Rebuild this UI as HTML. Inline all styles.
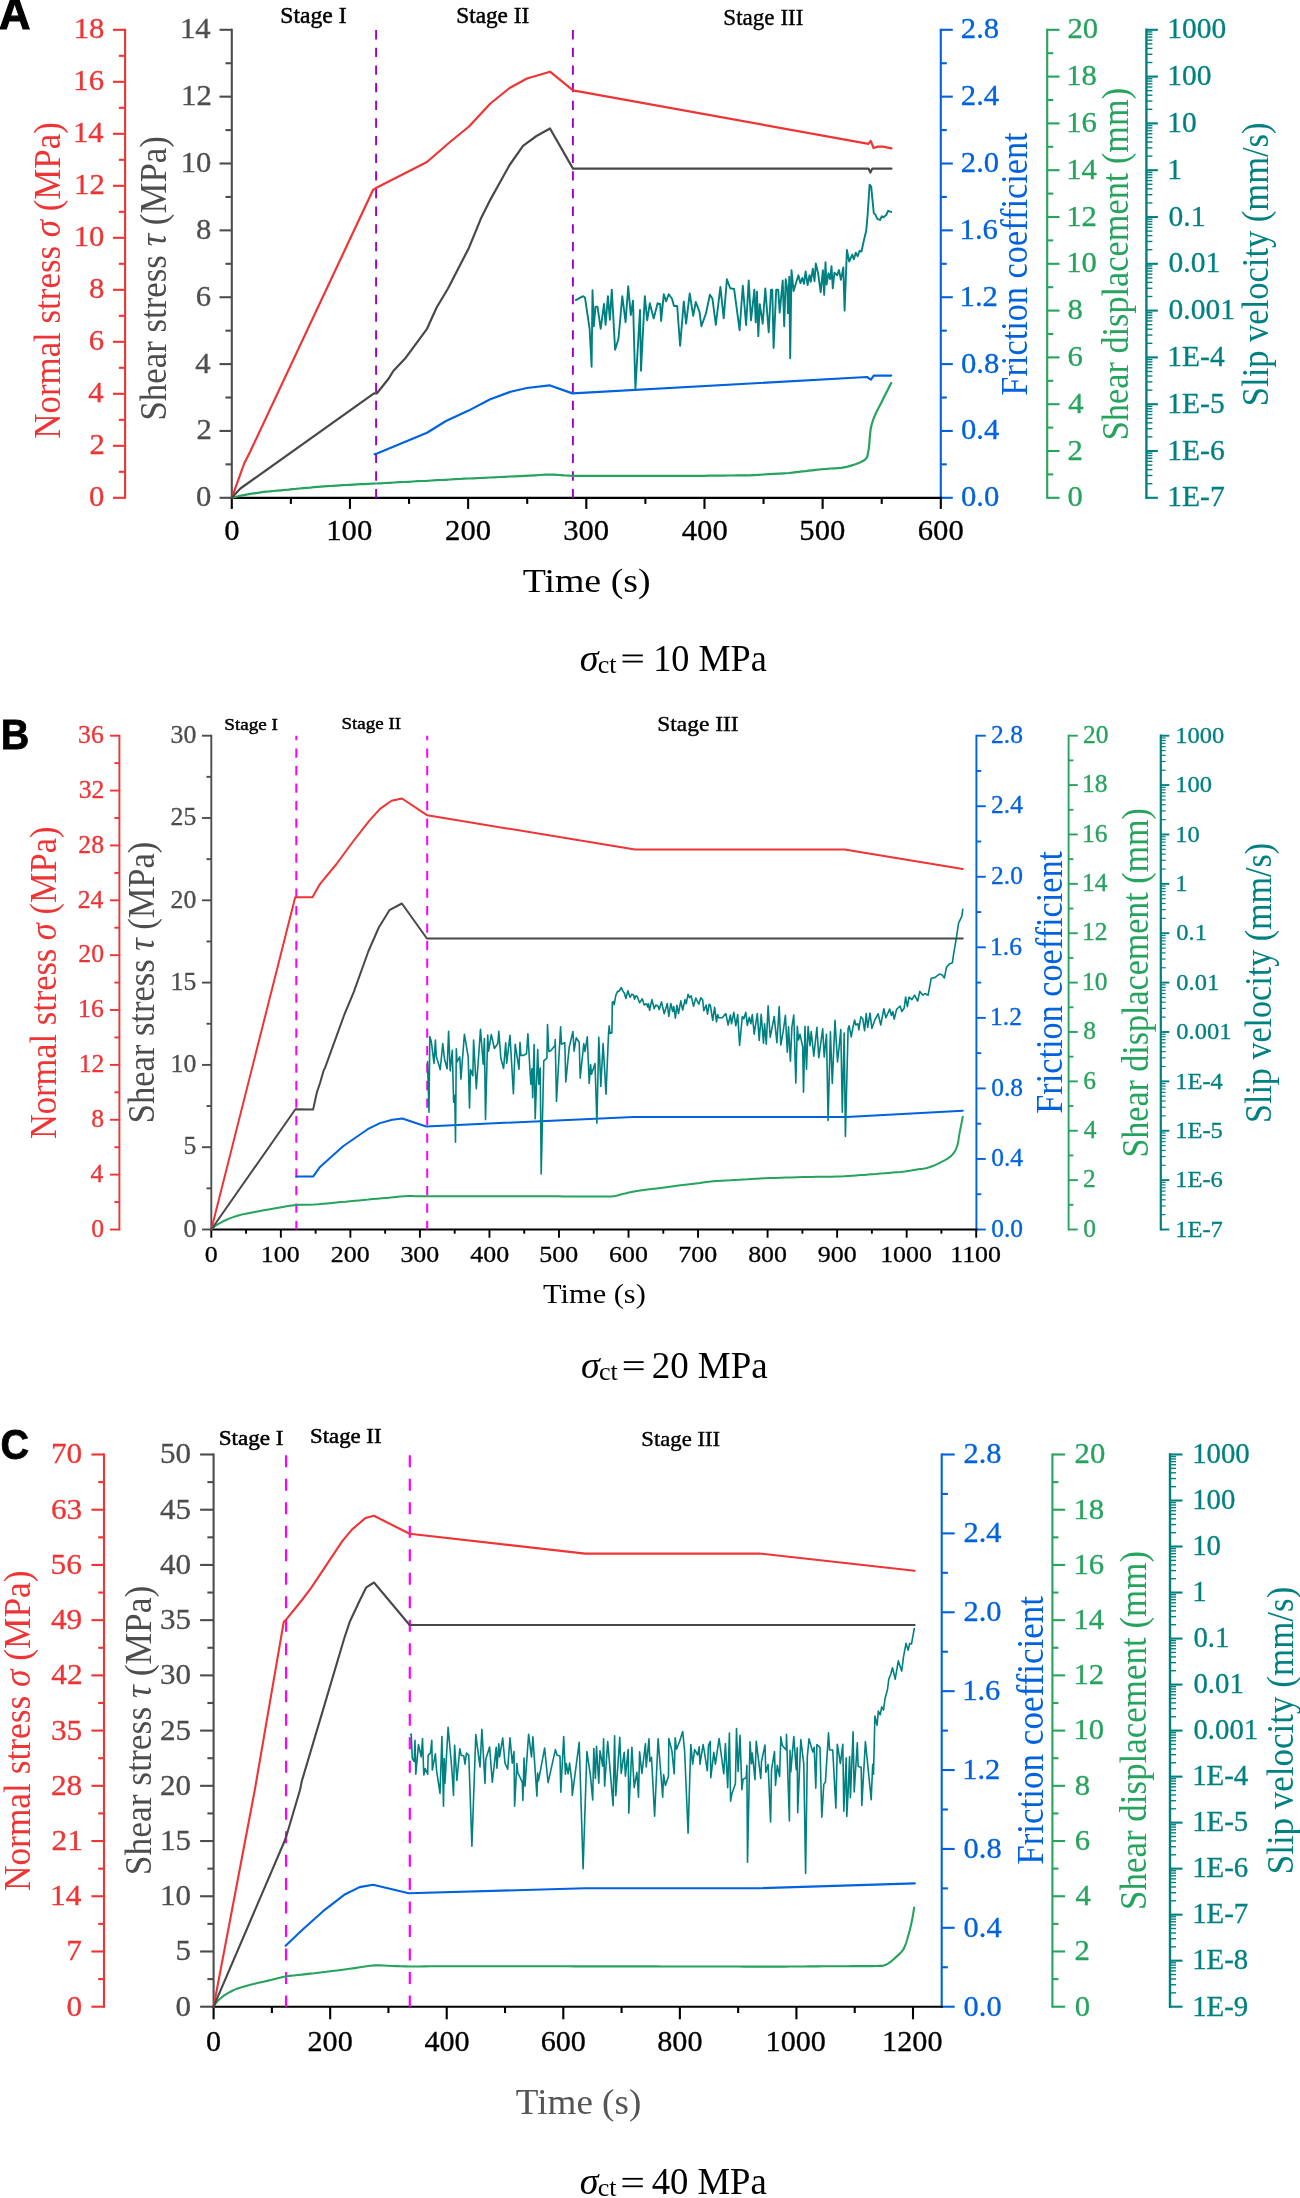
<!DOCTYPE html><html><head><meta charset="utf-8"><title>Figure</title><style>html,body{margin:0;padding:0;background:#fff;}svg{display:block;will-change:transform;}text{font-family:"Liberation Serif",serif;white-space:pre;}</style></head><body>
<svg width="1300" height="2198" viewBox="0 0 1300 2198">
<rect width="1300" height="2198" fill="#fff"/>
<g>
<text transform="translate(-0.89 29.00) scale(1.0000 1)" font-size="43.50" fill="#000" stroke="#000" stroke-width="1.10"><tspan font-weight="bold" font-family="Liberation Sans">A</tspan></text>
<line x1="125.10" y1="28.75" x2="125.10" y2="498.85" stroke="#ee3434" stroke-width="2.10"/>
<line x1="125.10" y1="497.80" x2="112.90" y2="497.80" stroke="#ee3434" stroke-width="2.10"/>
<text transform="translate(88.99 506.30) scale(1.0400 1)" font-size="29.50" fill="#ee3434" stroke="#ee3434" stroke-width="0.30"><tspan>0</tspan></text>
<line x1="125.10" y1="471.80" x2="118.80" y2="471.80" stroke="#ee3434" stroke-width="2.10"/>
<line x1="125.10" y1="445.80" x2="112.90" y2="445.80" stroke="#ee3434" stroke-width="2.10"/>
<text transform="translate(89.45 454.30) scale(1.0400 1)" font-size="29.50" fill="#ee3434" stroke="#ee3434" stroke-width="0.30"><tspan>2</tspan></text>
<line x1="125.10" y1="419.80" x2="118.80" y2="419.80" stroke="#ee3434" stroke-width="2.10"/>
<line x1="125.10" y1="393.80" x2="112.90" y2="393.80" stroke="#ee3434" stroke-width="2.10"/>
<text transform="translate(88.22 402.30) scale(1.0400 1)" font-size="29.50" fill="#ee3434" stroke="#ee3434" stroke-width="0.30"><tspan>4</tspan></text>
<line x1="125.10" y1="367.80" x2="118.80" y2="367.80" stroke="#ee3434" stroke-width="2.10"/>
<line x1="125.10" y1="341.80" x2="112.90" y2="341.80" stroke="#ee3434" stroke-width="2.10"/>
<text transform="translate(88.68 350.30) scale(1.0400 1)" font-size="29.50" fill="#ee3434" stroke="#ee3434" stroke-width="0.30"><tspan>6</tspan></text>
<line x1="125.10" y1="315.80" x2="118.80" y2="315.80" stroke="#ee3434" stroke-width="2.10"/>
<line x1="125.10" y1="289.80" x2="112.90" y2="289.80" stroke="#ee3434" stroke-width="2.10"/>
<text transform="translate(88.99 298.30) scale(1.0400 1)" font-size="29.50" fill="#ee3434" stroke="#ee3434" stroke-width="0.30"><tspan>8</tspan></text>
<line x1="125.10" y1="263.80" x2="118.80" y2="263.80" stroke="#ee3434" stroke-width="2.10"/>
<line x1="125.10" y1="237.80" x2="112.90" y2="237.80" stroke="#ee3434" stroke-width="2.10"/>
<text transform="translate(73.65 246.30) scale(1.0400 1)" font-size="29.50" fill="#ee3434" stroke="#ee3434" stroke-width="0.30"><tspan>10</tspan></text>
<line x1="125.10" y1="211.80" x2="118.80" y2="211.80" stroke="#ee3434" stroke-width="2.10"/>
<line x1="125.10" y1="185.80" x2="112.90" y2="185.80" stroke="#ee3434" stroke-width="2.10"/>
<text transform="translate(74.11 194.30) scale(1.0400 1)" font-size="29.50" fill="#ee3434" stroke="#ee3434" stroke-width="0.30"><tspan>12</tspan></text>
<line x1="125.10" y1="159.80" x2="118.80" y2="159.80" stroke="#ee3434" stroke-width="2.10"/>
<line x1="125.10" y1="133.80" x2="112.90" y2="133.80" stroke="#ee3434" stroke-width="2.10"/>
<text transform="translate(72.88 142.30) scale(1.0400 1)" font-size="29.50" fill="#ee3434" stroke="#ee3434" stroke-width="0.30"><tspan>14</tspan></text>
<line x1="125.10" y1="107.80" x2="118.80" y2="107.80" stroke="#ee3434" stroke-width="2.10"/>
<line x1="125.10" y1="81.80" x2="112.90" y2="81.80" stroke="#ee3434" stroke-width="2.10"/>
<text transform="translate(73.34 90.30) scale(1.0400 1)" font-size="29.50" fill="#ee3434" stroke="#ee3434" stroke-width="0.30"><tspan>16</tspan></text>
<line x1="125.10" y1="55.80" x2="118.80" y2="55.80" stroke="#ee3434" stroke-width="2.10"/>
<line x1="125.10" y1="29.80" x2="112.90" y2="29.80" stroke="#ee3434" stroke-width="2.10"/>
<text transform="translate(73.65 38.30) scale(1.0400 1)" font-size="29.50" fill="#ee3434" stroke="#ee3434" stroke-width="0.30"><tspan>18</tspan></text>
<line x1="231.80" y1="28.75" x2="231.80" y2="498.85" stroke="#4d4d4d" stroke-width="2.10"/>
<line x1="231.80" y1="497.80" x2="219.50" y2="497.80" stroke="#4d4d4d" stroke-width="2.10"/>
<text transform="translate(195.99 506.30) scale(1.0400 1)" font-size="29.50" fill="#4d4d4d" stroke="#4d4d4d" stroke-width="0.30"><tspan>0</tspan></text>
<line x1="231.80" y1="464.37" x2="225.50" y2="464.37" stroke="#4d4d4d" stroke-width="2.10"/>
<line x1="231.80" y1="430.94" x2="219.50" y2="430.94" stroke="#4d4d4d" stroke-width="2.10"/>
<text transform="translate(196.45 439.44) scale(1.0400 1)" font-size="29.50" fill="#4d4d4d" stroke="#4d4d4d" stroke-width="0.30"><tspan>2</tspan></text>
<line x1="231.80" y1="397.51" x2="225.50" y2="397.51" stroke="#4d4d4d" stroke-width="2.10"/>
<line x1="231.80" y1="364.09" x2="219.50" y2="364.09" stroke="#4d4d4d" stroke-width="2.10"/>
<text transform="translate(195.22 372.59) scale(1.0400 1)" font-size="29.50" fill="#4d4d4d" stroke="#4d4d4d" stroke-width="0.30"><tspan>4</tspan></text>
<line x1="231.80" y1="330.66" x2="225.50" y2="330.66" stroke="#4d4d4d" stroke-width="2.10"/>
<line x1="231.80" y1="297.23" x2="219.50" y2="297.23" stroke="#4d4d4d" stroke-width="2.10"/>
<text transform="translate(195.68 305.73) scale(1.0400 1)" font-size="29.50" fill="#4d4d4d" stroke="#4d4d4d" stroke-width="0.30"><tspan>6</tspan></text>
<line x1="231.80" y1="263.80" x2="225.50" y2="263.80" stroke="#4d4d4d" stroke-width="2.10"/>
<line x1="231.80" y1="230.37" x2="219.50" y2="230.37" stroke="#4d4d4d" stroke-width="2.10"/>
<text transform="translate(195.99 238.87) scale(1.0400 1)" font-size="29.50" fill="#4d4d4d" stroke="#4d4d4d" stroke-width="0.30"><tspan>8</tspan></text>
<line x1="231.80" y1="196.94" x2="225.50" y2="196.94" stroke="#4d4d4d" stroke-width="2.10"/>
<line x1="231.80" y1="163.51" x2="219.50" y2="163.51" stroke="#4d4d4d" stroke-width="2.10"/>
<text transform="translate(180.65 172.01) scale(1.0400 1)" font-size="29.50" fill="#4d4d4d" stroke="#4d4d4d" stroke-width="0.30"><tspan>10</tspan></text>
<line x1="231.80" y1="130.09" x2="225.50" y2="130.09" stroke="#4d4d4d" stroke-width="2.10"/>
<line x1="231.80" y1="96.66" x2="219.50" y2="96.66" stroke="#4d4d4d" stroke-width="2.10"/>
<text transform="translate(181.11 105.16) scale(1.0400 1)" font-size="29.50" fill="#4d4d4d" stroke="#4d4d4d" stroke-width="0.30"><tspan>12</tspan></text>
<line x1="231.80" y1="63.23" x2="225.50" y2="63.23" stroke="#4d4d4d" stroke-width="2.10"/>
<line x1="231.80" y1="29.80" x2="219.50" y2="29.80" stroke="#4d4d4d" stroke-width="2.10"/>
<text transform="translate(179.88 38.30) scale(1.0400 1)" font-size="29.50" fill="#4d4d4d" stroke="#4d4d4d" stroke-width="0.30"><tspan>14</tspan></text>
<line x1="940.80" y1="28.75" x2="940.80" y2="498.85" stroke="#0062dd" stroke-width="2.10"/>
<line x1="940.80" y1="497.80" x2="952.80" y2="497.80" stroke="#0062dd" stroke-width="2.10"/>
<text transform="translate(960.97 506.30) scale(1.0400 1)" font-size="29.50" fill="#0062dd" stroke="#0062dd" stroke-width="0.30"><tspan>0.0</tspan></text>
<line x1="940.80" y1="464.37" x2="946.80" y2="464.37" stroke="#0062dd" stroke-width="2.10"/>
<line x1="940.80" y1="430.94" x2="952.80" y2="430.94" stroke="#0062dd" stroke-width="2.10"/>
<text transform="translate(960.97 439.44) scale(1.0400 1)" font-size="29.50" fill="#0062dd" stroke="#0062dd" stroke-width="0.30"><tspan>0.4</tspan></text>
<line x1="940.80" y1="397.51" x2="946.80" y2="397.51" stroke="#0062dd" stroke-width="2.10"/>
<line x1="940.80" y1="364.09" x2="952.80" y2="364.09" stroke="#0062dd" stroke-width="2.10"/>
<text transform="translate(960.97 372.59) scale(1.0400 1)" font-size="29.50" fill="#0062dd" stroke="#0062dd" stroke-width="0.30"><tspan>0.8</tspan></text>
<line x1="940.80" y1="330.66" x2="946.80" y2="330.66" stroke="#0062dd" stroke-width="2.10"/>
<line x1="940.80" y1="297.23" x2="952.80" y2="297.23" stroke="#0062dd" stroke-width="2.10"/>
<text transform="translate(959.59 305.73) scale(1.0400 1)" font-size="29.50" fill="#0062dd" stroke="#0062dd" stroke-width="0.30"><tspan>1.2</tspan></text>
<line x1="940.80" y1="263.80" x2="946.80" y2="263.80" stroke="#0062dd" stroke-width="2.10"/>
<line x1="940.80" y1="230.37" x2="952.80" y2="230.37" stroke="#0062dd" stroke-width="2.10"/>
<text transform="translate(959.59 238.87) scale(1.0400 1)" font-size="29.50" fill="#0062dd" stroke="#0062dd" stroke-width="0.30"><tspan>1.6</tspan></text>
<line x1="940.80" y1="196.94" x2="946.80" y2="196.94" stroke="#0062dd" stroke-width="2.10"/>
<line x1="940.80" y1="163.51" x2="952.80" y2="163.51" stroke="#0062dd" stroke-width="2.10"/>
<text transform="translate(960.82 172.01) scale(1.0400 1)" font-size="29.50" fill="#0062dd" stroke="#0062dd" stroke-width="0.30"><tspan>2.0</tspan></text>
<line x1="940.80" y1="130.09" x2="946.80" y2="130.09" stroke="#0062dd" stroke-width="2.10"/>
<line x1="940.80" y1="96.66" x2="952.80" y2="96.66" stroke="#0062dd" stroke-width="2.10"/>
<text transform="translate(960.82 105.16) scale(1.0400 1)" font-size="29.50" fill="#0062dd" stroke="#0062dd" stroke-width="0.30"><tspan>2.4</tspan></text>
<line x1="940.80" y1="63.23" x2="946.80" y2="63.23" stroke="#0062dd" stroke-width="2.10"/>
<line x1="940.80" y1="29.80" x2="952.80" y2="29.80" stroke="#0062dd" stroke-width="2.10"/>
<text transform="translate(960.82 38.30) scale(1.0400 1)" font-size="29.50" fill="#0062dd" stroke="#0062dd" stroke-width="0.30"><tspan>2.8</tspan></text>
<line x1="1047.20" y1="28.75" x2="1047.20" y2="498.85" stroke="#26a35d" stroke-width="2.10"/>
<line x1="1047.20" y1="497.80" x2="1059.50" y2="497.80" stroke="#26a35d" stroke-width="2.10"/>
<text transform="translate(1067.57 506.30) scale(1.0400 1)" font-size="29.50" fill="#26a35d" stroke="#26a35d" stroke-width="0.30"><tspan>0</tspan></text>
<line x1="1047.20" y1="474.40" x2="1053.20" y2="474.40" stroke="#26a35d" stroke-width="2.10"/>
<line x1="1047.20" y1="451.00" x2="1059.50" y2="451.00" stroke="#26a35d" stroke-width="2.10"/>
<text transform="translate(1067.42 459.50) scale(1.0400 1)" font-size="29.50" fill="#26a35d" stroke="#26a35d" stroke-width="0.30"><tspan>2</tspan></text>
<line x1="1047.20" y1="427.60" x2="1053.20" y2="427.60" stroke="#26a35d" stroke-width="2.10"/>
<line x1="1047.20" y1="404.20" x2="1059.50" y2="404.20" stroke="#26a35d" stroke-width="2.10"/>
<text transform="translate(1068.19 412.70) scale(1.0400 1)" font-size="29.50" fill="#26a35d" stroke="#26a35d" stroke-width="0.30"><tspan>4</tspan></text>
<line x1="1047.20" y1="380.80" x2="1053.20" y2="380.80" stroke="#26a35d" stroke-width="2.10"/>
<line x1="1047.20" y1="357.40" x2="1059.50" y2="357.40" stroke="#26a35d" stroke-width="2.10"/>
<text transform="translate(1067.57 365.90) scale(1.0400 1)" font-size="29.50" fill="#26a35d" stroke="#26a35d" stroke-width="0.30"><tspan>6</tspan></text>
<line x1="1047.20" y1="334.00" x2="1053.20" y2="334.00" stroke="#26a35d" stroke-width="2.10"/>
<line x1="1047.20" y1="310.60" x2="1059.50" y2="310.60" stroke="#26a35d" stroke-width="2.10"/>
<text transform="translate(1067.57 319.10) scale(1.0400 1)" font-size="29.50" fill="#26a35d" stroke="#26a35d" stroke-width="0.30"><tspan>8</tspan></text>
<line x1="1047.20" y1="287.20" x2="1053.20" y2="287.20" stroke="#26a35d" stroke-width="2.10"/>
<line x1="1047.20" y1="263.80" x2="1059.50" y2="263.80" stroke="#26a35d" stroke-width="2.10"/>
<text transform="translate(1066.19 272.30) scale(1.0400 1)" font-size="29.50" fill="#26a35d" stroke="#26a35d" stroke-width="0.30"><tspan>10</tspan></text>
<line x1="1047.20" y1="240.40" x2="1053.20" y2="240.40" stroke="#26a35d" stroke-width="2.10"/>
<line x1="1047.20" y1="217.00" x2="1059.50" y2="217.00" stroke="#26a35d" stroke-width="2.10"/>
<text transform="translate(1066.19 225.50) scale(1.0400 1)" font-size="29.50" fill="#26a35d" stroke="#26a35d" stroke-width="0.30"><tspan>12</tspan></text>
<line x1="1047.20" y1="193.60" x2="1053.20" y2="193.60" stroke="#26a35d" stroke-width="2.10"/>
<line x1="1047.20" y1="170.20" x2="1059.50" y2="170.20" stroke="#26a35d" stroke-width="2.10"/>
<text transform="translate(1066.19 178.70) scale(1.0400 1)" font-size="29.50" fill="#26a35d" stroke="#26a35d" stroke-width="0.30"><tspan>14</tspan></text>
<line x1="1047.20" y1="146.80" x2="1053.20" y2="146.80" stroke="#26a35d" stroke-width="2.10"/>
<line x1="1047.20" y1="123.40" x2="1059.50" y2="123.40" stroke="#26a35d" stroke-width="2.10"/>
<text transform="translate(1066.19 131.90) scale(1.0400 1)" font-size="29.50" fill="#26a35d" stroke="#26a35d" stroke-width="0.30"><tspan>16</tspan></text>
<line x1="1047.20" y1="100.00" x2="1053.20" y2="100.00" stroke="#26a35d" stroke-width="2.10"/>
<line x1="1047.20" y1="76.60" x2="1059.50" y2="76.60" stroke="#26a35d" stroke-width="2.10"/>
<text transform="translate(1066.19 85.10) scale(1.0400 1)" font-size="29.50" fill="#26a35d" stroke="#26a35d" stroke-width="0.30"><tspan>18</tspan></text>
<line x1="1047.20" y1="53.20" x2="1053.20" y2="53.20" stroke="#26a35d" stroke-width="2.10"/>
<line x1="1047.20" y1="29.80" x2="1059.50" y2="29.80" stroke="#26a35d" stroke-width="2.10"/>
<text transform="translate(1067.42 38.30) scale(1.0400 1)" font-size="29.50" fill="#26a35d" stroke="#26a35d" stroke-width="0.30"><tspan>20</tspan></text>
<line x1="1146.40" y1="28.60" x2="1146.40" y2="499.00" stroke="#008080" stroke-width="2.40"/>
<line x1="1146.40" y1="497.80" x2="1157.90" y2="497.80" stroke="#008080" stroke-width="2.10"/>
<text transform="translate(1167.29 506.30) scale(1.0000 1)" font-size="29.50" fill="#008080" stroke="#008080" stroke-width="0.30"><tspan>1E-7</tspan></text>
<line x1="1146.40" y1="483.71" x2="1152.40" y2="483.71" stroke="#008080" stroke-width="1.40"/>
<line x1="1146.40" y1="475.47" x2="1152.40" y2="475.47" stroke="#008080" stroke-width="1.40"/>
<line x1="1146.40" y1="469.62" x2="1152.40" y2="469.62" stroke="#008080" stroke-width="1.40"/>
<line x1="1146.40" y1="465.09" x2="1152.40" y2="465.09" stroke="#008080" stroke-width="1.40"/>
<line x1="1146.40" y1="461.38" x2="1152.40" y2="461.38" stroke="#008080" stroke-width="1.40"/>
<line x1="1146.40" y1="458.25" x2="1152.40" y2="458.25" stroke="#008080" stroke-width="1.40"/>
<line x1="1146.40" y1="455.54" x2="1152.40" y2="455.54" stroke="#008080" stroke-width="1.40"/>
<line x1="1146.40" y1="453.14" x2="1152.40" y2="453.14" stroke="#008080" stroke-width="1.40"/>
<line x1="1146.40" y1="451.00" x2="1157.90" y2="451.00" stroke="#008080" stroke-width="2.10"/>
<text transform="translate(1167.29 459.50) scale(1.0000 1)" font-size="29.50" fill="#008080" stroke="#008080" stroke-width="0.30"><tspan>1E-6</tspan></text>
<line x1="1146.40" y1="436.91" x2="1152.40" y2="436.91" stroke="#008080" stroke-width="1.40"/>
<line x1="1146.40" y1="428.67" x2="1152.40" y2="428.67" stroke="#008080" stroke-width="1.40"/>
<line x1="1146.40" y1="422.82" x2="1152.40" y2="422.82" stroke="#008080" stroke-width="1.40"/>
<line x1="1146.40" y1="418.29" x2="1152.40" y2="418.29" stroke="#008080" stroke-width="1.40"/>
<line x1="1146.40" y1="414.58" x2="1152.40" y2="414.58" stroke="#008080" stroke-width="1.40"/>
<line x1="1146.40" y1="411.45" x2="1152.40" y2="411.45" stroke="#008080" stroke-width="1.40"/>
<line x1="1146.40" y1="408.74" x2="1152.40" y2="408.74" stroke="#008080" stroke-width="1.40"/>
<line x1="1146.40" y1="406.34" x2="1152.40" y2="406.34" stroke="#008080" stroke-width="1.40"/>
<line x1="1146.40" y1="404.20" x2="1157.90" y2="404.20" stroke="#008080" stroke-width="2.10"/>
<text transform="translate(1167.29 412.70) scale(1.0000 1)" font-size="29.50" fill="#008080" stroke="#008080" stroke-width="0.30"><tspan>1E-5</tspan></text>
<line x1="1146.40" y1="390.11" x2="1152.40" y2="390.11" stroke="#008080" stroke-width="1.40"/>
<line x1="1146.40" y1="381.87" x2="1152.40" y2="381.87" stroke="#008080" stroke-width="1.40"/>
<line x1="1146.40" y1="376.02" x2="1152.40" y2="376.02" stroke="#008080" stroke-width="1.40"/>
<line x1="1146.40" y1="371.49" x2="1152.40" y2="371.49" stroke="#008080" stroke-width="1.40"/>
<line x1="1146.40" y1="367.78" x2="1152.40" y2="367.78" stroke="#008080" stroke-width="1.40"/>
<line x1="1146.40" y1="364.65" x2="1152.40" y2="364.65" stroke="#008080" stroke-width="1.40"/>
<line x1="1146.40" y1="361.94" x2="1152.40" y2="361.94" stroke="#008080" stroke-width="1.40"/>
<line x1="1146.40" y1="359.54" x2="1152.40" y2="359.54" stroke="#008080" stroke-width="1.40"/>
<line x1="1146.40" y1="357.40" x2="1157.90" y2="357.40" stroke="#008080" stroke-width="2.10"/>
<text transform="translate(1167.29 365.90) scale(1.0000 1)" font-size="29.50" fill="#008080" stroke="#008080" stroke-width="0.30"><tspan>1E-4</tspan></text>
<line x1="1146.40" y1="343.31" x2="1152.40" y2="343.31" stroke="#008080" stroke-width="1.40"/>
<line x1="1146.40" y1="335.07" x2="1152.40" y2="335.07" stroke="#008080" stroke-width="1.40"/>
<line x1="1146.40" y1="329.22" x2="1152.40" y2="329.22" stroke="#008080" stroke-width="1.40"/>
<line x1="1146.40" y1="324.69" x2="1152.40" y2="324.69" stroke="#008080" stroke-width="1.40"/>
<line x1="1146.40" y1="320.98" x2="1152.40" y2="320.98" stroke="#008080" stroke-width="1.40"/>
<line x1="1146.40" y1="317.85" x2="1152.40" y2="317.85" stroke="#008080" stroke-width="1.40"/>
<line x1="1146.40" y1="315.14" x2="1152.40" y2="315.14" stroke="#008080" stroke-width="1.40"/>
<line x1="1146.40" y1="312.74" x2="1152.40" y2="312.74" stroke="#008080" stroke-width="1.40"/>
<line x1="1146.40" y1="310.60" x2="1157.90" y2="310.60" stroke="#008080" stroke-width="2.10"/>
<text transform="translate(1168.62 319.10) scale(1.0000 1)" font-size="29.50" fill="#008080" stroke="#008080" stroke-width="0.30"><tspan>0.001</tspan></text>
<line x1="1146.40" y1="296.51" x2="1152.40" y2="296.51" stroke="#008080" stroke-width="1.40"/>
<line x1="1146.40" y1="288.27" x2="1152.40" y2="288.27" stroke="#008080" stroke-width="1.40"/>
<line x1="1146.40" y1="282.42" x2="1152.40" y2="282.42" stroke="#008080" stroke-width="1.40"/>
<line x1="1146.40" y1="277.89" x2="1152.40" y2="277.89" stroke="#008080" stroke-width="1.40"/>
<line x1="1146.40" y1="274.18" x2="1152.40" y2="274.18" stroke="#008080" stroke-width="1.40"/>
<line x1="1146.40" y1="271.05" x2="1152.40" y2="271.05" stroke="#008080" stroke-width="1.40"/>
<line x1="1146.40" y1="268.34" x2="1152.40" y2="268.34" stroke="#008080" stroke-width="1.40"/>
<line x1="1146.40" y1="265.94" x2="1152.40" y2="265.94" stroke="#008080" stroke-width="1.40"/>
<line x1="1146.40" y1="263.80" x2="1157.90" y2="263.80" stroke="#008080" stroke-width="2.10"/>
<text transform="translate(1168.62 272.30) scale(1.0000 1)" font-size="29.50" fill="#008080" stroke="#008080" stroke-width="0.30"><tspan>0.01</tspan></text>
<line x1="1146.40" y1="249.71" x2="1152.40" y2="249.71" stroke="#008080" stroke-width="1.40"/>
<line x1="1146.40" y1="241.47" x2="1152.40" y2="241.47" stroke="#008080" stroke-width="1.40"/>
<line x1="1146.40" y1="235.62" x2="1152.40" y2="235.62" stroke="#008080" stroke-width="1.40"/>
<line x1="1146.40" y1="231.09" x2="1152.40" y2="231.09" stroke="#008080" stroke-width="1.40"/>
<line x1="1146.40" y1="227.38" x2="1152.40" y2="227.38" stroke="#008080" stroke-width="1.40"/>
<line x1="1146.40" y1="224.25" x2="1152.40" y2="224.25" stroke="#008080" stroke-width="1.40"/>
<line x1="1146.40" y1="221.54" x2="1152.40" y2="221.54" stroke="#008080" stroke-width="1.40"/>
<line x1="1146.40" y1="219.14" x2="1152.40" y2="219.14" stroke="#008080" stroke-width="1.40"/>
<line x1="1146.40" y1="217.00" x2="1157.90" y2="217.00" stroke="#008080" stroke-width="2.10"/>
<text transform="translate(1168.62 225.50) scale(1.0000 1)" font-size="29.50" fill="#008080" stroke="#008080" stroke-width="0.30"><tspan>0.1</tspan></text>
<line x1="1146.40" y1="202.91" x2="1152.40" y2="202.91" stroke="#008080" stroke-width="1.40"/>
<line x1="1146.40" y1="194.67" x2="1152.40" y2="194.67" stroke="#008080" stroke-width="1.40"/>
<line x1="1146.40" y1="188.82" x2="1152.40" y2="188.82" stroke="#008080" stroke-width="1.40"/>
<line x1="1146.40" y1="184.29" x2="1152.40" y2="184.29" stroke="#008080" stroke-width="1.40"/>
<line x1="1146.40" y1="180.58" x2="1152.40" y2="180.58" stroke="#008080" stroke-width="1.40"/>
<line x1="1146.40" y1="177.45" x2="1152.40" y2="177.45" stroke="#008080" stroke-width="1.40"/>
<line x1="1146.40" y1="174.74" x2="1152.40" y2="174.74" stroke="#008080" stroke-width="1.40"/>
<line x1="1146.40" y1="172.34" x2="1152.40" y2="172.34" stroke="#008080" stroke-width="1.40"/>
<line x1="1146.40" y1="170.20" x2="1157.90" y2="170.20" stroke="#008080" stroke-width="2.10"/>
<text transform="translate(1167.29 178.70) scale(1.0000 1)" font-size="29.50" fill="#008080" stroke="#008080" stroke-width="0.30"><tspan>1</tspan></text>
<line x1="1146.40" y1="156.11" x2="1152.40" y2="156.11" stroke="#008080" stroke-width="1.40"/>
<line x1="1146.40" y1="147.87" x2="1152.40" y2="147.87" stroke="#008080" stroke-width="1.40"/>
<line x1="1146.40" y1="142.02" x2="1152.40" y2="142.02" stroke="#008080" stroke-width="1.40"/>
<line x1="1146.40" y1="137.49" x2="1152.40" y2="137.49" stroke="#008080" stroke-width="1.40"/>
<line x1="1146.40" y1="133.78" x2="1152.40" y2="133.78" stroke="#008080" stroke-width="1.40"/>
<line x1="1146.40" y1="130.65" x2="1152.40" y2="130.65" stroke="#008080" stroke-width="1.40"/>
<line x1="1146.40" y1="127.94" x2="1152.40" y2="127.94" stroke="#008080" stroke-width="1.40"/>
<line x1="1146.40" y1="125.54" x2="1152.40" y2="125.54" stroke="#008080" stroke-width="1.40"/>
<line x1="1146.40" y1="123.40" x2="1157.90" y2="123.40" stroke="#008080" stroke-width="2.10"/>
<text transform="translate(1167.29 131.90) scale(1.0000 1)" font-size="29.50" fill="#008080" stroke="#008080" stroke-width="0.30"><tspan>10</tspan></text>
<line x1="1146.40" y1="109.31" x2="1152.40" y2="109.31" stroke="#008080" stroke-width="1.40"/>
<line x1="1146.40" y1="101.07" x2="1152.40" y2="101.07" stroke="#008080" stroke-width="1.40"/>
<line x1="1146.40" y1="95.22" x2="1152.40" y2="95.22" stroke="#008080" stroke-width="1.40"/>
<line x1="1146.40" y1="90.69" x2="1152.40" y2="90.69" stroke="#008080" stroke-width="1.40"/>
<line x1="1146.40" y1="86.98" x2="1152.40" y2="86.98" stroke="#008080" stroke-width="1.40"/>
<line x1="1146.40" y1="83.85" x2="1152.40" y2="83.85" stroke="#008080" stroke-width="1.40"/>
<line x1="1146.40" y1="81.14" x2="1152.40" y2="81.14" stroke="#008080" stroke-width="1.40"/>
<line x1="1146.40" y1="78.74" x2="1152.40" y2="78.74" stroke="#008080" stroke-width="1.40"/>
<line x1="1146.40" y1="76.60" x2="1157.90" y2="76.60" stroke="#008080" stroke-width="2.10"/>
<text transform="translate(1167.29 85.10) scale(1.0000 1)" font-size="29.50" fill="#008080" stroke="#008080" stroke-width="0.30"><tspan>100</tspan></text>
<line x1="1146.40" y1="62.51" x2="1152.40" y2="62.51" stroke="#008080" stroke-width="1.40"/>
<line x1="1146.40" y1="54.27" x2="1152.40" y2="54.27" stroke="#008080" stroke-width="1.40"/>
<line x1="1146.40" y1="48.42" x2="1152.40" y2="48.42" stroke="#008080" stroke-width="1.40"/>
<line x1="1146.40" y1="43.89" x2="1152.40" y2="43.89" stroke="#008080" stroke-width="1.40"/>
<line x1="1146.40" y1="40.18" x2="1152.40" y2="40.18" stroke="#008080" stroke-width="1.40"/>
<line x1="1146.40" y1="37.05" x2="1152.40" y2="37.05" stroke="#008080" stroke-width="1.40"/>
<line x1="1146.40" y1="34.34" x2="1152.40" y2="34.34" stroke="#008080" stroke-width="1.40"/>
<line x1="1146.40" y1="31.94" x2="1152.40" y2="31.94" stroke="#008080" stroke-width="1.40"/>
<line x1="1146.40" y1="29.80" x2="1157.90" y2="29.80" stroke="#008080" stroke-width="2.10"/>
<text transform="translate(1167.29 38.30) scale(1.0000 1)" font-size="29.50" fill="#008080" stroke="#008080" stroke-width="0.30"><tspan>1000</tspan></text>
<line x1="230.75" y1="497.90" x2="941.85" y2="497.90" stroke="#000000" stroke-width="2.10"/>
<line x1="231.80" y1="497.90" x2="231.80" y2="508.90" stroke="#000000" stroke-width="2.10"/>
<text transform="translate(224.13 539.70) scale(1.0400 1)" font-size="29.50" fill="#000000" stroke="#000000" stroke-width="0.30"><tspan>0</tspan></text>
<line x1="290.88" y1="497.90" x2="290.88" y2="503.90" stroke="#000000" stroke-width="2.10"/>
<line x1="349.97" y1="497.90" x2="349.97" y2="508.90" stroke="#000000" stroke-width="2.10"/>
<text transform="translate(326.27 539.70) scale(1.0400 1)" font-size="29.50" fill="#000000" stroke="#000000" stroke-width="0.30"><tspan>100</tspan></text>
<line x1="409.05" y1="497.90" x2="409.05" y2="503.90" stroke="#000000" stroke-width="2.10"/>
<line x1="468.13" y1="497.90" x2="468.13" y2="508.90" stroke="#000000" stroke-width="2.10"/>
<text transform="translate(445.05 539.70) scale(1.0400 1)" font-size="29.50" fill="#000000" stroke="#000000" stroke-width="0.30"><tspan>200</tspan></text>
<line x1="527.22" y1="497.90" x2="527.22" y2="503.90" stroke="#000000" stroke-width="2.10"/>
<line x1="586.30" y1="497.90" x2="586.30" y2="508.90" stroke="#000000" stroke-width="2.10"/>
<text transform="translate(563.21 539.70) scale(1.0400 1)" font-size="29.50" fill="#000000" stroke="#000000" stroke-width="0.30"><tspan>300</tspan></text>
<line x1="645.38" y1="497.90" x2="645.38" y2="503.90" stroke="#000000" stroke-width="2.10"/>
<line x1="704.47" y1="497.90" x2="704.47" y2="508.90" stroke="#000000" stroke-width="2.10"/>
<text transform="translate(681.76 539.70) scale(1.0400 1)" font-size="29.50" fill="#000000" stroke="#000000" stroke-width="0.30"><tspan>400</tspan></text>
<line x1="763.55" y1="497.90" x2="763.55" y2="503.90" stroke="#000000" stroke-width="2.10"/>
<line x1="822.63" y1="497.90" x2="822.63" y2="508.90" stroke="#000000" stroke-width="2.10"/>
<text transform="translate(799.32 539.70) scale(1.0400 1)" font-size="29.50" fill="#000000" stroke="#000000" stroke-width="0.30"><tspan>500</tspan></text>
<line x1="881.72" y1="497.90" x2="881.72" y2="503.90" stroke="#000000" stroke-width="2.10"/>
<line x1="940.80" y1="497.90" x2="940.80" y2="508.90" stroke="#000000" stroke-width="2.10"/>
<text transform="translate(917.79 539.70) scale(1.0400 1)" font-size="29.50" fill="#000000" stroke="#000000" stroke-width="0.30"><tspan>600</tspan></text>
<text transform="translate(59.70 438.75) scale(1.0700 1) rotate(-90)" font-size="34.90" fill="#ee3434"><tspan>Normal&#160;stress&#160;</tspan><tspan font-style="italic">σ</tspan><tspan>&#160;(MPa)</tspan></text>
<text transform="translate(166.00 420.57) scale(1.0800 1) rotate(-90)" font-size="34.86" fill="#4d4d4d"><tspan>Shear&#160;stress&#160;</tspan><tspan font-style="italic">τ</tspan><tspan>&#160;(MPa)</tspan></text>
<text transform="translate(1027.30 395.63) scale(1.0800 1) rotate(-90)" font-size="34.32" fill="#0062dd"><tspan>Friction&#160;coefficient</tspan></text>
<text transform="translate(1128.30 440.23) scale(1.0800 1) rotate(-90)" font-size="34.31" fill="#26a35d"><tspan>Shear&#160;displacement&#160;(mm)</tspan></text>
<text transform="translate(1267.70 406.14) scale(1.0800 1) rotate(-90)" font-size="34.52" fill="#008080"><tspan>Slip&#160;velocity&#160;(mm/s)</tspan></text>
<text transform="translate(522.64 591.80) scale(1.0942 1)" font-size="34.60" fill="#000000"><tspan>Time&#160;(s)</tspan></text>
<text transform="translate(280.26 22.60) scale(1.0287 1)" font-size="23.00" fill="#000000" stroke="#000000" stroke-width="0.50"><tspan>Stage&#160;I</tspan></text>
<text transform="translate(456.29 22.60) scale(1.0112 1)" font-size="23.00" fill="#000000" stroke="#000000" stroke-width="0.50"><tspan>Stage&#160;II</tspan></text>
<text transform="translate(723.30 25.00) scale(1.0048 1)" font-size="23.00" fill="#000000" stroke="#000000" stroke-width="0.40"><tspan>Stage&#160;III</tspan></text>
<line x1="376.10" y1="30.10" x2="376.10" y2="497.90" stroke="#9c00cc" stroke-width="1.90" stroke-dasharray="9.30 8.35" stroke-dashoffset="0.00"/>
<line x1="572.90" y1="30.10" x2="572.90" y2="497.90" stroke="#9c00cc" stroke-width="1.90" stroke-dasharray="9.30 8.35" stroke-dashoffset="0.00"/>
<polyline points="231.8,497.8 234.1,497.3 237.3,496.5 241.1,495.6 245.0,494.8 249.0,494.1 253.4,493.4 257.8,492.8 262.0,492.2 265.9,491.7 269.7,491.4 273.4,491.0 277.1,490.7 281.0,490.3 284.8,489.9 288.6,489.6 292.3,489.2 295.9,488.9 299.5,488.5 303.1,488.2 306.7,487.9 310.3,487.6 313.9,487.2 317.5,486.9 321.0,486.6 324.3,486.4 327.4,486.2 330.4,486.0 333.5,485.8 336.6,485.6 339.6,485.4 342.7,485.2 346.0,485.0 349.6,484.8 353.3,484.6 357.1,484.4 360.9,484.2 364.5,484.1 368.1,483.9 371.8,483.7 375.8,483.5 380.2,483.3 384.9,483.0 389.7,482.8 394.4,482.5 399.1,482.2 403.8,482.0 408.4,481.8 413.1,481.5 417.7,481.2 422.4,481.0 427.1,480.8 431.7,480.5 436.4,480.2 441.0,480.0 445.7,479.8 450.4,479.5 455.0,479.2 459.6,479.0 464.2,478.7 469.0,478.5 473.9,478.3 479.0,478.0 484.1,477.8 489.2,477.5 494.3,477.3 499.4,477.0 504.4,476.8 509.5,476.5 514.6,476.3 519.6,476.1 524.7,475.8 529.8,475.6 535.0,475.3 540.4,475.0 545.6,474.7 550.0,474.6 553.5,474.6 556.3,474.8 558.8,475.0 561.5,475.2 564.1,475.4 566.6,475.5 569.4,475.7 573.0,475.8 577.6,475.8 583.0,475.8 588.6,475.8 594.2,475.8 599.5,475.8 604.8,475.8 610.0,475.8 615.3,475.8 620.6,475.8 625.9,475.8 631.2,475.8 636.5,475.8 641.8,475.8 647.1,475.8 652.4,475.8 657.7,475.8 663.0,475.8 668.2,475.8 673.5,475.8 678.8,475.8 684.2,475.8 689.7,475.8 695.1,475.8 700.0,475.8 704.4,475.8 708.4,475.7 712.2,475.7 716.2,475.6 720.2,475.6 724.2,475.6 728.3,475.5 732.3,475.5 736.3,475.4 740.2,475.4 744.2,475.4 748.5,475.3 753.3,475.1 758.3,474.8 763.6,474.5 768.7,474.2 773.9,473.9 779.2,473.6 784.3,473.3 788.9,473.0 792.7,472.6 796.0,472.2 799.1,471.8 802.3,471.4 805.7,471.1 809.0,470.7 812.3,470.3 815.8,469.9 819.4,469.5 823.1,469.2 826.9,468.9 830.6,468.5 834.2,468.3 837.7,468.2 841.4,467.9 845.4,467.2 850.2,465.9 855.5,464.2 860.5,462.2 864.3,460.2 866.4,458.2 867.4,456.2 867.8,454.0 868.3,451.5 868.8,448.7 869.1,445.7 869.4,442.5 869.6,439.4 869.9,436.4 870.2,433.3 870.5,430.3 871.0,427.3 871.7,424.4 872.6,421.5 873.6,418.5 875.0,415.2 876.7,411.4 878.8,407.4 881.0,403.2 883.1,399.0 885.3,394.6 887.7,390.0 889.7,385.8 891.2,382.9" fill="none" stroke="#26a35d" stroke-width="2.20" stroke-linejoin="round" stroke-linecap="round"/>
<polyline points="374.6,454.2 377.0,453.5 427.0,432.7 446.0,421.0 468.6,410.6 490.2,399.3 510.6,391.8 526.8,388.0 549.4,385.3 572.5,393.4 867.0,377.0 871.0,379.7 873.7,375.6 891.2,375.6" fill="none" stroke="#0062dd" stroke-width="2.20" stroke-linejoin="round" stroke-linecap="round"/>
<polyline points="575.9,300.1 583.1,296.2 585.0,297.5 589.6,328.8 591.6,366.8 592.5,290.3 593.8,326.2 595.5,306.6 597.5,306.6 600.7,328.8 604.0,304.0 605.6,324.9 607.9,296.2 609.9,319.7 611.8,289.6 615.1,349.8 618.4,339.3 622.3,296.2 625.6,322.3 628.2,286.3 630.8,315.1 633.0,300.7 635.4,389.0 640.0,309.9 641.0,370.7 644.8,296.2 647.2,320.3 649.8,303.3 653.7,318.4 657.6,303.3 660.2,304.0 661.1,321.0 663.8,294.2 666.1,301.4 668.7,294.2 672.0,298.8 674.0,306.0 677.2,306.0 680.1,345.8 683.8,301.4 686.1,323.6 689.7,293.5 693.2,315.8 695.8,302.0 699.5,311.8 701.4,326.2 706.0,313.2 709.9,294.8 712.5,298.8 715.8,324.9 720.4,286.9 723.7,318.4 726.9,279.2 730.2,288.3 734.1,289.0 739.6,330.2 742.8,285.8 746.1,325.0 748.7,280.5 751.0,320.4 754.4,289.7 755.7,322.4 757.0,291.7 758.3,336.1 759.8,304.1 762.7,323.7 765.3,288.4 768.7,332.2 771.0,289.7 772.3,289.7 773.6,347.9 776.2,289.7 778.2,289.7 779.7,312.6 782.7,280.5 784.2,326.3 785.7,279.2 787.3,289.7 788.0,313.2 789.3,276.6 790.2,358.3 791.5,270.1 793.6,291.0 798.4,275.3 800.4,283.2 802.3,277.9 804.0,283.8 805.6,271.4 807.6,285.1 809.5,275.3 810.8,281.8 812.8,268.8 814.5,281.2 815.8,263.5 818.0,272.7 820.7,292.3 822.9,270.1 824.2,294.9 825.5,262.2 826.5,284.5 828.5,273.3 830.2,279.2 831.5,266.2 832.8,288.4 834.4,272.7 837.0,275.3 839.0,270.1 840.9,279.9 843.3,267.5 844.6,310.6 846.9,250.0 849.2,261.5 852.3,254.6 853.8,259.2 855.8,252.7 857.7,256.2 859.6,250.8 861.5,251.5 863.8,240.8 866.2,230.8 867.7,213.8 869.6,184.6 871.2,186.9 873.8,213.1 875.4,214.6 877.3,218.8 880.0,220.0 881.9,216.2 883.5,217.3 886.2,215.0 888.1,210.8 891.2,211.9" fill="none" stroke="#008080" stroke-width="1.90" stroke-linejoin="round" stroke-linecap="round"/>
<polyline points="231.8,497.8 244.2,463.5 250.0,452.0 373.0,190.0 376.0,188.0 427.0,162.0 450.0,142.0 469.0,126.5 490.4,103.5 509.6,88.0 527.0,78.5 550.0,71.7 573.0,90.4 868.5,143.8 870.7,140.9 873.6,148.0 877.8,146.6 883.0,146.6 891.4,148.3" fill="none" stroke="#ee3434" stroke-width="2.20" stroke-linejoin="round" stroke-linecap="round"/>
<polyline points="231.8,497.8 240.4,488.5 374.0,393.3 377.0,393.3 388.5,378.8 393.3,371.0 405.8,357.7 427.0,328.8 436.5,307.7 448.0,288.5 469.0,247.7 480.8,218.8 490.4,199.6 500.0,182.3 509.6,165.0 523.0,145.8 536.5,136.0 550.0,128.5 573.0,168.6 868.5,168.6 870.4,172.5 872.3,168.6 891.5,168.6" fill="none" stroke="#484848" stroke-width="2.20" stroke-linejoin="round" stroke-linecap="round"/>
<text transform="translate(579.86 670.60) scale(1.0000 1)" font-size="38.00" fill="#000"><tspan font-style="italic">σ</tspan></text>
<text transform="translate(597.76 673.20) scale(1.0000 1)" font-size="26.00" fill="#000"><tspan>ct</tspan></text>
<rect x="622.50" y="654.50" width="20.30" height="1.80" fill="#000"/>
<rect x="622.50" y="660.70" width="20.30" height="1.80" fill="#000"/>
<text transform="translate(653.22 670.60) scale(0.9522 1)" font-size="38.00" fill="#000"><tspan>10&#160;MPa</tspan></text>
</g>
<g>
<text transform="translate(0.73 748.60) scale(0.9400 1)" font-size="42.00" fill="#000" stroke="#000" stroke-width="0.80"><tspan font-weight="bold" font-family="Liberation Sans">B</tspan></text>
<line x1="119.40" y1="734.75" x2="119.40" y2="1230.45" stroke="#ee3434" stroke-width="1.90"/>
<line x1="119.40" y1="1229.50" x2="109.90" y2="1229.50" stroke="#ee3434" stroke-width="1.90"/>
<text transform="translate(91.15 1236.70) scale(1.0600 1)" font-size="24.30" fill="#ee3434" stroke="#ee3434" stroke-width="0.30"><tspan>0</tspan></text>
<line x1="119.40" y1="1202.07" x2="114.40" y2="1202.07" stroke="#ee3434" stroke-width="1.90"/>
<line x1="119.40" y1="1174.63" x2="109.90" y2="1174.63" stroke="#ee3434" stroke-width="1.90"/>
<text transform="translate(90.51 1181.83) scale(1.0600 1)" font-size="24.30" fill="#ee3434" stroke="#ee3434" stroke-width="0.30"><tspan>4</tspan></text>
<line x1="119.40" y1="1147.20" x2="114.40" y2="1147.20" stroke="#ee3434" stroke-width="1.90"/>
<line x1="119.40" y1="1119.77" x2="109.90" y2="1119.77" stroke="#ee3434" stroke-width="1.90"/>
<text transform="translate(91.15 1126.97) scale(1.0600 1)" font-size="24.30" fill="#ee3434" stroke="#ee3434" stroke-width="0.30"><tspan>8</tspan></text>
<line x1="119.40" y1="1092.33" x2="114.40" y2="1092.33" stroke="#ee3434" stroke-width="1.90"/>
<line x1="119.40" y1="1064.90" x2="109.90" y2="1064.90" stroke="#ee3434" stroke-width="1.90"/>
<text transform="translate(78.66 1072.10) scale(1.0600 1)" font-size="24.30" fill="#ee3434" stroke="#ee3434" stroke-width="0.30"><tspan>12</tspan></text>
<line x1="119.40" y1="1037.47" x2="114.40" y2="1037.47" stroke="#ee3434" stroke-width="1.90"/>
<line x1="119.40" y1="1010.03" x2="109.90" y2="1010.03" stroke="#ee3434" stroke-width="1.90"/>
<text transform="translate(78.01 1017.23) scale(1.0600 1)" font-size="24.30" fill="#ee3434" stroke="#ee3434" stroke-width="0.30"><tspan>16</tspan></text>
<line x1="119.40" y1="982.60" x2="114.40" y2="982.60" stroke="#ee3434" stroke-width="1.90"/>
<line x1="119.40" y1="955.17" x2="109.90" y2="955.17" stroke="#ee3434" stroke-width="1.90"/>
<text transform="translate(78.27 962.37) scale(1.0600 1)" font-size="24.30" fill="#ee3434" stroke="#ee3434" stroke-width="0.30"><tspan>20</tspan></text>
<line x1="119.40" y1="927.73" x2="114.40" y2="927.73" stroke="#ee3434" stroke-width="1.90"/>
<line x1="119.40" y1="900.30" x2="109.90" y2="900.30" stroke="#ee3434" stroke-width="1.90"/>
<text transform="translate(77.63 907.50) scale(1.0600 1)" font-size="24.30" fill="#ee3434" stroke="#ee3434" stroke-width="0.30"><tspan>24</tspan></text>
<line x1="119.40" y1="872.87" x2="114.40" y2="872.87" stroke="#ee3434" stroke-width="1.90"/>
<line x1="119.40" y1="845.43" x2="109.90" y2="845.43" stroke="#ee3434" stroke-width="1.90"/>
<text transform="translate(78.27 852.63) scale(1.0600 1)" font-size="24.30" fill="#ee3434" stroke="#ee3434" stroke-width="0.30"><tspan>28</tspan></text>
<line x1="119.40" y1="818.00" x2="114.40" y2="818.00" stroke="#ee3434" stroke-width="1.90"/>
<line x1="119.40" y1="790.57" x2="109.90" y2="790.57" stroke="#ee3434" stroke-width="1.90"/>
<text transform="translate(78.66 797.77) scale(1.0600 1)" font-size="24.30" fill="#ee3434" stroke="#ee3434" stroke-width="0.30"><tspan>32</tspan></text>
<line x1="119.40" y1="763.13" x2="114.40" y2="763.13" stroke="#ee3434" stroke-width="1.90"/>
<line x1="119.40" y1="735.70" x2="109.90" y2="735.70" stroke="#ee3434" stroke-width="1.90"/>
<text transform="translate(78.01 742.90) scale(1.0600 1)" font-size="24.30" fill="#ee3434" stroke="#ee3434" stroke-width="0.30"><tspan>36</tspan></text>
<line x1="211.30" y1="734.75" x2="211.30" y2="1230.45" stroke="#4d4d4d" stroke-width="1.90"/>
<line x1="211.30" y1="1229.50" x2="202.00" y2="1229.50" stroke="#4d4d4d" stroke-width="1.90"/>
<text transform="translate(183.45 1236.70) scale(1.0600 1)" font-size="24.30" fill="#4d4d4d" stroke="#4d4d4d" stroke-width="0.30"><tspan>0</tspan></text>
<line x1="211.30" y1="1188.35" x2="206.50" y2="1188.35" stroke="#4d4d4d" stroke-width="1.90"/>
<line x1="211.30" y1="1147.20" x2="202.00" y2="1147.20" stroke="#4d4d4d" stroke-width="1.90"/>
<text transform="translate(183.45 1154.40) scale(1.0600 1)" font-size="24.30" fill="#4d4d4d" stroke="#4d4d4d" stroke-width="0.30"><tspan>5</tspan></text>
<line x1="211.30" y1="1106.05" x2="206.50" y2="1106.05" stroke="#4d4d4d" stroke-width="1.90"/>
<line x1="211.30" y1="1064.90" x2="202.00" y2="1064.90" stroke="#4d4d4d" stroke-width="1.90"/>
<text transform="translate(170.57 1072.10) scale(1.0600 1)" font-size="24.30" fill="#4d4d4d" stroke="#4d4d4d" stroke-width="0.30"><tspan>10</tspan></text>
<line x1="211.30" y1="1023.75" x2="206.50" y2="1023.75" stroke="#4d4d4d" stroke-width="1.90"/>
<line x1="211.30" y1="982.60" x2="202.00" y2="982.60" stroke="#4d4d4d" stroke-width="1.90"/>
<text transform="translate(170.57 989.80) scale(1.0600 1)" font-size="24.30" fill="#4d4d4d" stroke="#4d4d4d" stroke-width="0.30"><tspan>15</tspan></text>
<line x1="211.30" y1="941.45" x2="206.50" y2="941.45" stroke="#4d4d4d" stroke-width="1.90"/>
<line x1="211.30" y1="900.30" x2="202.00" y2="900.30" stroke="#4d4d4d" stroke-width="1.90"/>
<text transform="translate(170.57 907.50) scale(1.0600 1)" font-size="24.30" fill="#4d4d4d" stroke="#4d4d4d" stroke-width="0.30"><tspan>20</tspan></text>
<line x1="211.30" y1="859.15" x2="206.50" y2="859.15" stroke="#4d4d4d" stroke-width="1.90"/>
<line x1="211.30" y1="818.00" x2="202.00" y2="818.00" stroke="#4d4d4d" stroke-width="1.90"/>
<text transform="translate(170.57 825.20) scale(1.0600 1)" font-size="24.30" fill="#4d4d4d" stroke="#4d4d4d" stroke-width="0.30"><tspan>25</tspan></text>
<line x1="211.30" y1="776.85" x2="206.50" y2="776.85" stroke="#4d4d4d" stroke-width="1.90"/>
<line x1="211.30" y1="735.70" x2="202.00" y2="735.70" stroke="#4d4d4d" stroke-width="1.90"/>
<text transform="translate(170.57 742.90) scale(1.0600 1)" font-size="24.30" fill="#4d4d4d" stroke="#4d4d4d" stroke-width="0.30"><tspan>30</tspan></text>
<line x1="976.40" y1="734.75" x2="976.40" y2="1230.45" stroke="#0062dd" stroke-width="1.90"/>
<line x1="976.40" y1="1229.50" x2="985.80" y2="1229.50" stroke="#0062dd" stroke-width="1.90"/>
<text transform="translate(991.18 1236.70) scale(1.0500 1)" font-size="24.30" fill="#0062dd" stroke="#0062dd" stroke-width="0.30"><tspan>0.0</tspan></text>
<line x1="976.40" y1="1194.23" x2="981.20" y2="1194.23" stroke="#0062dd" stroke-width="1.90"/>
<line x1="976.40" y1="1158.96" x2="985.80" y2="1158.96" stroke="#0062dd" stroke-width="1.90"/>
<text transform="translate(991.18 1166.16) scale(1.0500 1)" font-size="24.30" fill="#0062dd" stroke="#0062dd" stroke-width="0.30"><tspan>0.4</tspan></text>
<line x1="976.40" y1="1123.69" x2="981.20" y2="1123.69" stroke="#0062dd" stroke-width="1.90"/>
<line x1="976.40" y1="1088.41" x2="985.80" y2="1088.41" stroke="#0062dd" stroke-width="1.90"/>
<text transform="translate(991.18 1095.61) scale(1.0500 1)" font-size="24.30" fill="#0062dd" stroke="#0062dd" stroke-width="0.30"><tspan>0.8</tspan></text>
<line x1="976.40" y1="1053.14" x2="981.20" y2="1053.14" stroke="#0062dd" stroke-width="1.90"/>
<line x1="976.40" y1="1017.87" x2="985.80" y2="1017.87" stroke="#0062dd" stroke-width="1.90"/>
<text transform="translate(990.03 1025.07) scale(1.0500 1)" font-size="24.30" fill="#0062dd" stroke="#0062dd" stroke-width="0.30"><tspan>1.2</tspan></text>
<line x1="976.40" y1="982.60" x2="981.20" y2="982.60" stroke="#0062dd" stroke-width="1.90"/>
<line x1="976.40" y1="947.33" x2="985.80" y2="947.33" stroke="#0062dd" stroke-width="1.90"/>
<text transform="translate(990.03 954.53) scale(1.0500 1)" font-size="24.30" fill="#0062dd" stroke="#0062dd" stroke-width="0.30"><tspan>1.6</tspan></text>
<line x1="976.40" y1="912.06" x2="981.20" y2="912.06" stroke="#0062dd" stroke-width="1.90"/>
<line x1="976.40" y1="876.79" x2="985.80" y2="876.79" stroke="#0062dd" stroke-width="1.90"/>
<text transform="translate(991.05 883.99) scale(1.0500 1)" font-size="24.30" fill="#0062dd" stroke="#0062dd" stroke-width="0.30"><tspan>2.0</tspan></text>
<line x1="976.40" y1="841.51" x2="981.20" y2="841.51" stroke="#0062dd" stroke-width="1.90"/>
<line x1="976.40" y1="806.24" x2="985.80" y2="806.24" stroke="#0062dd" stroke-width="1.90"/>
<text transform="translate(991.05 813.44) scale(1.0500 1)" font-size="24.30" fill="#0062dd" stroke="#0062dd" stroke-width="0.30"><tspan>2.4</tspan></text>
<line x1="976.40" y1="770.97" x2="981.20" y2="770.97" stroke="#0062dd" stroke-width="1.90"/>
<line x1="976.40" y1="735.70" x2="985.80" y2="735.70" stroke="#0062dd" stroke-width="1.90"/>
<text transform="translate(991.05 742.90) scale(1.0500 1)" font-size="24.30" fill="#0062dd" stroke="#0062dd" stroke-width="0.30"><tspan>2.8</tspan></text>
<line x1="1068.60" y1="734.75" x2="1068.60" y2="1230.45" stroke="#26a35d" stroke-width="1.90"/>
<line x1="1068.60" y1="1229.50" x2="1077.80" y2="1229.50" stroke="#26a35d" stroke-width="1.90"/>
<text transform="translate(1083.18 1236.70) scale(1.0500 1)" font-size="24.30" fill="#26a35d" stroke="#26a35d" stroke-width="0.30"><tspan>0</tspan></text>
<line x1="1068.60" y1="1204.81" x2="1073.40" y2="1204.81" stroke="#26a35d" stroke-width="1.90"/>
<line x1="1068.60" y1="1180.12" x2="1077.80" y2="1180.12" stroke="#26a35d" stroke-width="1.90"/>
<text transform="translate(1083.05 1187.32) scale(1.0500 1)" font-size="24.30" fill="#26a35d" stroke="#26a35d" stroke-width="0.30"><tspan>2</tspan></text>
<line x1="1068.60" y1="1155.43" x2="1073.40" y2="1155.43" stroke="#26a35d" stroke-width="1.90"/>
<line x1="1068.60" y1="1130.74" x2="1077.80" y2="1130.74" stroke="#26a35d" stroke-width="1.90"/>
<text transform="translate(1083.69 1137.94) scale(1.0500 1)" font-size="24.30" fill="#26a35d" stroke="#26a35d" stroke-width="0.30"><tspan>4</tspan></text>
<line x1="1068.60" y1="1106.05" x2="1073.40" y2="1106.05" stroke="#26a35d" stroke-width="1.90"/>
<line x1="1068.60" y1="1081.36" x2="1077.80" y2="1081.36" stroke="#26a35d" stroke-width="1.90"/>
<text transform="translate(1083.18 1088.56) scale(1.0500 1)" font-size="24.30" fill="#26a35d" stroke="#26a35d" stroke-width="0.30"><tspan>6</tspan></text>
<line x1="1068.60" y1="1056.67" x2="1073.40" y2="1056.67" stroke="#26a35d" stroke-width="1.90"/>
<line x1="1068.60" y1="1031.98" x2="1077.80" y2="1031.98" stroke="#26a35d" stroke-width="1.90"/>
<text transform="translate(1083.18 1039.18) scale(1.0500 1)" font-size="24.30" fill="#26a35d" stroke="#26a35d" stroke-width="0.30"><tspan>8</tspan></text>
<line x1="1068.60" y1="1007.29" x2="1073.40" y2="1007.29" stroke="#26a35d" stroke-width="1.90"/>
<line x1="1068.60" y1="982.60" x2="1077.80" y2="982.60" stroke="#26a35d" stroke-width="1.90"/>
<text transform="translate(1082.03 989.80) scale(1.0500 1)" font-size="24.30" fill="#26a35d" stroke="#26a35d" stroke-width="0.30"><tspan>10</tspan></text>
<line x1="1068.60" y1="957.91" x2="1073.40" y2="957.91" stroke="#26a35d" stroke-width="1.90"/>
<line x1="1068.60" y1="933.22" x2="1077.80" y2="933.22" stroke="#26a35d" stroke-width="1.90"/>
<text transform="translate(1082.03 940.42) scale(1.0500 1)" font-size="24.30" fill="#26a35d" stroke="#26a35d" stroke-width="0.30"><tspan>12</tspan></text>
<line x1="1068.60" y1="908.53" x2="1073.40" y2="908.53" stroke="#26a35d" stroke-width="1.90"/>
<line x1="1068.60" y1="883.84" x2="1077.80" y2="883.84" stroke="#26a35d" stroke-width="1.90"/>
<text transform="translate(1082.03 891.04) scale(1.0500 1)" font-size="24.30" fill="#26a35d" stroke="#26a35d" stroke-width="0.30"><tspan>14</tspan></text>
<line x1="1068.60" y1="859.15" x2="1073.40" y2="859.15" stroke="#26a35d" stroke-width="1.90"/>
<line x1="1068.60" y1="834.46" x2="1077.80" y2="834.46" stroke="#26a35d" stroke-width="1.90"/>
<text transform="translate(1082.03 841.66) scale(1.0500 1)" font-size="24.30" fill="#26a35d" stroke="#26a35d" stroke-width="0.30"><tspan>16</tspan></text>
<line x1="1068.60" y1="809.77" x2="1073.40" y2="809.77" stroke="#26a35d" stroke-width="1.90"/>
<line x1="1068.60" y1="785.08" x2="1077.80" y2="785.08" stroke="#26a35d" stroke-width="1.90"/>
<text transform="translate(1082.03 792.28) scale(1.0500 1)" font-size="24.30" fill="#26a35d" stroke="#26a35d" stroke-width="0.30"><tspan>18</tspan></text>
<line x1="1068.60" y1="760.39" x2="1073.40" y2="760.39" stroke="#26a35d" stroke-width="1.90"/>
<line x1="1068.60" y1="735.70" x2="1077.80" y2="735.70" stroke="#26a35d" stroke-width="1.90"/>
<text transform="translate(1083.05 742.90) scale(1.0500 1)" font-size="24.30" fill="#26a35d" stroke="#26a35d" stroke-width="0.30"><tspan>20</tspan></text>
<line x1="1160.80" y1="734.60" x2="1160.80" y2="1230.60" stroke="#008080" stroke-width="2.20"/>
<line x1="1160.80" y1="1229.50" x2="1169.30" y2="1229.50" stroke="#008080" stroke-width="1.90"/>
<text transform="translate(1175.22 1236.70) scale(1.0300 1)" font-size="23.80" fill="#008080" stroke="#008080" stroke-width="0.30"><tspan>1E-7</tspan></text>
<line x1="1160.80" y1="1214.64" x2="1165.60" y2="1214.64" stroke="#008080" stroke-width="1.20"/>
<line x1="1160.80" y1="1205.94" x2="1165.60" y2="1205.94" stroke="#008080" stroke-width="1.20"/>
<line x1="1160.80" y1="1199.77" x2="1165.60" y2="1199.77" stroke="#008080" stroke-width="1.20"/>
<line x1="1160.80" y1="1194.98" x2="1165.60" y2="1194.98" stroke="#008080" stroke-width="1.20"/>
<line x1="1160.80" y1="1191.07" x2="1165.60" y2="1191.07" stroke="#008080" stroke-width="1.20"/>
<line x1="1160.80" y1="1187.77" x2="1165.60" y2="1187.77" stroke="#008080" stroke-width="1.20"/>
<line x1="1160.80" y1="1184.91" x2="1165.60" y2="1184.91" stroke="#008080" stroke-width="1.20"/>
<line x1="1160.80" y1="1182.38" x2="1165.60" y2="1182.38" stroke="#008080" stroke-width="1.20"/>
<line x1="1160.80" y1="1180.12" x2="1169.30" y2="1180.12" stroke="#008080" stroke-width="1.90"/>
<text transform="translate(1175.22 1187.32) scale(1.0300 1)" font-size="23.80" fill="#008080" stroke="#008080" stroke-width="0.30"><tspan>1E-6</tspan></text>
<line x1="1160.80" y1="1165.26" x2="1165.60" y2="1165.26" stroke="#008080" stroke-width="1.20"/>
<line x1="1160.80" y1="1156.56" x2="1165.60" y2="1156.56" stroke="#008080" stroke-width="1.20"/>
<line x1="1160.80" y1="1150.39" x2="1165.60" y2="1150.39" stroke="#008080" stroke-width="1.20"/>
<line x1="1160.80" y1="1145.60" x2="1165.60" y2="1145.60" stroke="#008080" stroke-width="1.20"/>
<line x1="1160.80" y1="1141.69" x2="1165.60" y2="1141.69" stroke="#008080" stroke-width="1.20"/>
<line x1="1160.80" y1="1138.39" x2="1165.60" y2="1138.39" stroke="#008080" stroke-width="1.20"/>
<line x1="1160.80" y1="1135.53" x2="1165.60" y2="1135.53" stroke="#008080" stroke-width="1.20"/>
<line x1="1160.80" y1="1133.00" x2="1165.60" y2="1133.00" stroke="#008080" stroke-width="1.20"/>
<line x1="1160.80" y1="1130.74" x2="1169.30" y2="1130.74" stroke="#008080" stroke-width="1.90"/>
<text transform="translate(1175.22 1137.94) scale(1.0300 1)" font-size="23.80" fill="#008080" stroke="#008080" stroke-width="0.30"><tspan>1E-5</tspan></text>
<line x1="1160.80" y1="1115.88" x2="1165.60" y2="1115.88" stroke="#008080" stroke-width="1.20"/>
<line x1="1160.80" y1="1107.18" x2="1165.60" y2="1107.18" stroke="#008080" stroke-width="1.20"/>
<line x1="1160.80" y1="1101.01" x2="1165.60" y2="1101.01" stroke="#008080" stroke-width="1.20"/>
<line x1="1160.80" y1="1096.22" x2="1165.60" y2="1096.22" stroke="#008080" stroke-width="1.20"/>
<line x1="1160.80" y1="1092.31" x2="1165.60" y2="1092.31" stroke="#008080" stroke-width="1.20"/>
<line x1="1160.80" y1="1089.01" x2="1165.60" y2="1089.01" stroke="#008080" stroke-width="1.20"/>
<line x1="1160.80" y1="1086.15" x2="1165.60" y2="1086.15" stroke="#008080" stroke-width="1.20"/>
<line x1="1160.80" y1="1083.62" x2="1165.60" y2="1083.62" stroke="#008080" stroke-width="1.20"/>
<line x1="1160.80" y1="1081.36" x2="1169.30" y2="1081.36" stroke="#008080" stroke-width="1.90"/>
<text transform="translate(1175.22 1088.56) scale(1.0300 1)" font-size="23.80" fill="#008080" stroke="#008080" stroke-width="0.30"><tspan>1E-4</tspan></text>
<line x1="1160.80" y1="1066.50" x2="1165.60" y2="1066.50" stroke="#008080" stroke-width="1.20"/>
<line x1="1160.80" y1="1057.80" x2="1165.60" y2="1057.80" stroke="#008080" stroke-width="1.20"/>
<line x1="1160.80" y1="1051.63" x2="1165.60" y2="1051.63" stroke="#008080" stroke-width="1.20"/>
<line x1="1160.80" y1="1046.84" x2="1165.60" y2="1046.84" stroke="#008080" stroke-width="1.20"/>
<line x1="1160.80" y1="1042.93" x2="1165.60" y2="1042.93" stroke="#008080" stroke-width="1.20"/>
<line x1="1160.80" y1="1039.63" x2="1165.60" y2="1039.63" stroke="#008080" stroke-width="1.20"/>
<line x1="1160.80" y1="1036.77" x2="1165.60" y2="1036.77" stroke="#008080" stroke-width="1.20"/>
<line x1="1160.80" y1="1034.24" x2="1165.60" y2="1034.24" stroke="#008080" stroke-width="1.20"/>
<line x1="1160.80" y1="1031.98" x2="1169.30" y2="1031.98" stroke="#008080" stroke-width="1.90"/>
<text transform="translate(1176.32 1039.18) scale(1.0300 1)" font-size="23.80" fill="#008080" stroke="#008080" stroke-width="0.30"><tspan>0.001</tspan></text>
<line x1="1160.80" y1="1017.12" x2="1165.60" y2="1017.12" stroke="#008080" stroke-width="1.20"/>
<line x1="1160.80" y1="1008.42" x2="1165.60" y2="1008.42" stroke="#008080" stroke-width="1.20"/>
<line x1="1160.80" y1="1002.25" x2="1165.60" y2="1002.25" stroke="#008080" stroke-width="1.20"/>
<line x1="1160.80" y1="997.46" x2="1165.60" y2="997.46" stroke="#008080" stroke-width="1.20"/>
<line x1="1160.80" y1="993.55" x2="1165.60" y2="993.55" stroke="#008080" stroke-width="1.20"/>
<line x1="1160.80" y1="990.25" x2="1165.60" y2="990.25" stroke="#008080" stroke-width="1.20"/>
<line x1="1160.80" y1="987.39" x2="1165.60" y2="987.39" stroke="#008080" stroke-width="1.20"/>
<line x1="1160.80" y1="984.86" x2="1165.60" y2="984.86" stroke="#008080" stroke-width="1.20"/>
<line x1="1160.80" y1="982.60" x2="1169.30" y2="982.60" stroke="#008080" stroke-width="1.90"/>
<text transform="translate(1176.32 989.80) scale(1.0300 1)" font-size="23.80" fill="#008080" stroke="#008080" stroke-width="0.30"><tspan>0.01</tspan></text>
<line x1="1160.80" y1="967.74" x2="1165.60" y2="967.74" stroke="#008080" stroke-width="1.20"/>
<line x1="1160.80" y1="959.04" x2="1165.60" y2="959.04" stroke="#008080" stroke-width="1.20"/>
<line x1="1160.80" y1="952.87" x2="1165.60" y2="952.87" stroke="#008080" stroke-width="1.20"/>
<line x1="1160.80" y1="948.08" x2="1165.60" y2="948.08" stroke="#008080" stroke-width="1.20"/>
<line x1="1160.80" y1="944.17" x2="1165.60" y2="944.17" stroke="#008080" stroke-width="1.20"/>
<line x1="1160.80" y1="940.87" x2="1165.60" y2="940.87" stroke="#008080" stroke-width="1.20"/>
<line x1="1160.80" y1="938.01" x2="1165.60" y2="938.01" stroke="#008080" stroke-width="1.20"/>
<line x1="1160.80" y1="935.48" x2="1165.60" y2="935.48" stroke="#008080" stroke-width="1.20"/>
<line x1="1160.80" y1="933.22" x2="1169.30" y2="933.22" stroke="#008080" stroke-width="1.90"/>
<text transform="translate(1176.32 940.42) scale(1.0300 1)" font-size="23.80" fill="#008080" stroke="#008080" stroke-width="0.30"><tspan>0.1</tspan></text>
<line x1="1160.80" y1="918.36" x2="1165.60" y2="918.36" stroke="#008080" stroke-width="1.20"/>
<line x1="1160.80" y1="909.66" x2="1165.60" y2="909.66" stroke="#008080" stroke-width="1.20"/>
<line x1="1160.80" y1="903.49" x2="1165.60" y2="903.49" stroke="#008080" stroke-width="1.20"/>
<line x1="1160.80" y1="898.70" x2="1165.60" y2="898.70" stroke="#008080" stroke-width="1.20"/>
<line x1="1160.80" y1="894.79" x2="1165.60" y2="894.79" stroke="#008080" stroke-width="1.20"/>
<line x1="1160.80" y1="891.49" x2="1165.60" y2="891.49" stroke="#008080" stroke-width="1.20"/>
<line x1="1160.80" y1="888.63" x2="1165.60" y2="888.63" stroke="#008080" stroke-width="1.20"/>
<line x1="1160.80" y1="886.10" x2="1165.60" y2="886.10" stroke="#008080" stroke-width="1.20"/>
<line x1="1160.80" y1="883.84" x2="1169.30" y2="883.84" stroke="#008080" stroke-width="1.90"/>
<text transform="translate(1175.22 891.04) scale(1.0300 1)" font-size="23.80" fill="#008080" stroke="#008080" stroke-width="0.30"><tspan>1</tspan></text>
<line x1="1160.80" y1="868.98" x2="1165.60" y2="868.98" stroke="#008080" stroke-width="1.20"/>
<line x1="1160.80" y1="860.28" x2="1165.60" y2="860.28" stroke="#008080" stroke-width="1.20"/>
<line x1="1160.80" y1="854.11" x2="1165.60" y2="854.11" stroke="#008080" stroke-width="1.20"/>
<line x1="1160.80" y1="849.32" x2="1165.60" y2="849.32" stroke="#008080" stroke-width="1.20"/>
<line x1="1160.80" y1="845.41" x2="1165.60" y2="845.41" stroke="#008080" stroke-width="1.20"/>
<line x1="1160.80" y1="842.11" x2="1165.60" y2="842.11" stroke="#008080" stroke-width="1.20"/>
<line x1="1160.80" y1="839.25" x2="1165.60" y2="839.25" stroke="#008080" stroke-width="1.20"/>
<line x1="1160.80" y1="836.72" x2="1165.60" y2="836.72" stroke="#008080" stroke-width="1.20"/>
<line x1="1160.80" y1="834.46" x2="1169.30" y2="834.46" stroke="#008080" stroke-width="1.90"/>
<text transform="translate(1175.22 841.66) scale(1.0300 1)" font-size="23.80" fill="#008080" stroke="#008080" stroke-width="0.30"><tspan>10</tspan></text>
<line x1="1160.80" y1="819.60" x2="1165.60" y2="819.60" stroke="#008080" stroke-width="1.20"/>
<line x1="1160.80" y1="810.90" x2="1165.60" y2="810.90" stroke="#008080" stroke-width="1.20"/>
<line x1="1160.80" y1="804.73" x2="1165.60" y2="804.73" stroke="#008080" stroke-width="1.20"/>
<line x1="1160.80" y1="799.94" x2="1165.60" y2="799.94" stroke="#008080" stroke-width="1.20"/>
<line x1="1160.80" y1="796.03" x2="1165.60" y2="796.03" stroke="#008080" stroke-width="1.20"/>
<line x1="1160.80" y1="792.73" x2="1165.60" y2="792.73" stroke="#008080" stroke-width="1.20"/>
<line x1="1160.80" y1="789.87" x2="1165.60" y2="789.87" stroke="#008080" stroke-width="1.20"/>
<line x1="1160.80" y1="787.34" x2="1165.60" y2="787.34" stroke="#008080" stroke-width="1.20"/>
<line x1="1160.80" y1="785.08" x2="1169.30" y2="785.08" stroke="#008080" stroke-width="1.90"/>
<text transform="translate(1175.22 792.28) scale(1.0300 1)" font-size="23.80" fill="#008080" stroke="#008080" stroke-width="0.30"><tspan>100</tspan></text>
<line x1="1160.80" y1="770.22" x2="1165.60" y2="770.22" stroke="#008080" stroke-width="1.20"/>
<line x1="1160.80" y1="761.52" x2="1165.60" y2="761.52" stroke="#008080" stroke-width="1.20"/>
<line x1="1160.80" y1="755.35" x2="1165.60" y2="755.35" stroke="#008080" stroke-width="1.20"/>
<line x1="1160.80" y1="750.56" x2="1165.60" y2="750.56" stroke="#008080" stroke-width="1.20"/>
<line x1="1160.80" y1="746.65" x2="1165.60" y2="746.65" stroke="#008080" stroke-width="1.20"/>
<line x1="1160.80" y1="743.35" x2="1165.60" y2="743.35" stroke="#008080" stroke-width="1.20"/>
<line x1="1160.80" y1="740.49" x2="1165.60" y2="740.49" stroke="#008080" stroke-width="1.20"/>
<line x1="1160.80" y1="737.96" x2="1165.60" y2="737.96" stroke="#008080" stroke-width="1.20"/>
<line x1="1160.80" y1="735.70" x2="1169.30" y2="735.70" stroke="#008080" stroke-width="1.90"/>
<text transform="translate(1175.22 742.90) scale(1.0300 1)" font-size="23.80" fill="#008080" stroke="#008080" stroke-width="0.30"><tspan>1000</tspan></text>
<line x1="210.35" y1="1229.50" x2="977.35" y2="1229.50" stroke="#000000" stroke-width="1.90"/>
<line x1="211.30" y1="1229.50" x2="211.30" y2="1237.70" stroke="#000000" stroke-width="1.90"/>
<text transform="translate(204.82 1262.00) scale(1.0800 1)" font-size="24.00" fill="#000000" stroke="#000000" stroke-width="0.30"><tspan>0</tspan></text>
<line x1="246.07" y1="1229.50" x2="246.07" y2="1233.70" stroke="#000000" stroke-width="1.90"/>
<line x1="280.84" y1="1229.50" x2="280.84" y2="1237.70" stroke="#000000" stroke-width="1.90"/>
<text transform="translate(260.81 1262.00) scale(1.0800 1)" font-size="24.00" fill="#000000" stroke="#000000" stroke-width="0.30"><tspan>100</tspan></text>
<line x1="315.60" y1="1229.50" x2="315.60" y2="1233.70" stroke="#000000" stroke-width="1.90"/>
<line x1="350.37" y1="1229.50" x2="350.37" y2="1237.70" stroke="#000000" stroke-width="1.90"/>
<text transform="translate(330.87 1262.00) scale(1.0800 1)" font-size="24.00" fill="#000000" stroke="#000000" stroke-width="0.30"><tspan>200</tspan></text>
<line x1="385.14" y1="1229.50" x2="385.14" y2="1233.70" stroke="#000000" stroke-width="1.90"/>
<line x1="419.91" y1="1229.50" x2="419.91" y2="1237.70" stroke="#000000" stroke-width="1.90"/>
<text transform="translate(400.40 1262.00) scale(1.0800 1)" font-size="24.00" fill="#000000" stroke="#000000" stroke-width="0.30"><tspan>300</tspan></text>
<line x1="454.68" y1="1229.50" x2="454.68" y2="1233.70" stroke="#000000" stroke-width="1.90"/>
<line x1="489.45" y1="1229.50" x2="489.45" y2="1237.70" stroke="#000000" stroke-width="1.90"/>
<text transform="translate(470.26 1262.00) scale(1.0800 1)" font-size="24.00" fill="#000000" stroke="#000000" stroke-width="0.30"><tspan>400</tspan></text>
<line x1="524.21" y1="1229.50" x2="524.21" y2="1233.70" stroke="#000000" stroke-width="1.90"/>
<line x1="558.98" y1="1229.50" x2="558.98" y2="1237.70" stroke="#000000" stroke-width="1.90"/>
<text transform="translate(539.28 1262.00) scale(1.0800 1)" font-size="24.00" fill="#000000" stroke="#000000" stroke-width="0.30"><tspan>500</tspan></text>
<line x1="593.75" y1="1229.50" x2="593.75" y2="1233.70" stroke="#000000" stroke-width="1.90"/>
<line x1="628.52" y1="1229.50" x2="628.52" y2="1237.70" stroke="#000000" stroke-width="1.90"/>
<text transform="translate(609.08 1262.00) scale(1.0800 1)" font-size="24.00" fill="#000000" stroke="#000000" stroke-width="0.30"><tspan>600</tspan></text>
<line x1="663.29" y1="1229.50" x2="663.29" y2="1233.70" stroke="#000000" stroke-width="1.90"/>
<line x1="698.05" y1="1229.50" x2="698.05" y2="1237.70" stroke="#000000" stroke-width="1.90"/>
<text transform="translate(678.29 1262.00) scale(1.0800 1)" font-size="24.00" fill="#000000" stroke="#000000" stroke-width="0.30"><tspan>700</tspan></text>
<line x1="732.82" y1="1229.50" x2="732.82" y2="1233.70" stroke="#000000" stroke-width="1.90"/>
<line x1="767.59" y1="1229.50" x2="767.59" y2="1237.70" stroke="#000000" stroke-width="1.90"/>
<text transform="translate(748.15 1262.00) scale(1.0800 1)" font-size="24.00" fill="#000000" stroke="#000000" stroke-width="0.30"><tspan>800</tspan></text>
<line x1="802.36" y1="1229.50" x2="802.36" y2="1233.70" stroke="#000000" stroke-width="1.90"/>
<line x1="837.13" y1="1229.50" x2="837.13" y2="1237.70" stroke="#000000" stroke-width="1.90"/>
<text transform="translate(817.82 1262.00) scale(1.0800 1)" font-size="24.00" fill="#000000" stroke="#000000" stroke-width="0.30"><tspan>900</tspan></text>
<line x1="871.90" y1="1229.50" x2="871.90" y2="1233.70" stroke="#000000" stroke-width="1.90"/>
<line x1="906.66" y1="1229.50" x2="906.66" y2="1237.70" stroke="#000000" stroke-width="1.90"/>
<text transform="translate(880.16 1262.00) scale(1.0800 1)" font-size="24.00" fill="#000000" stroke="#000000" stroke-width="0.30"><tspan>1000</tspan></text>
<line x1="941.43" y1="1229.50" x2="941.43" y2="1233.70" stroke="#000000" stroke-width="1.90"/>
<line x1="976.20" y1="1229.50" x2="976.20" y2="1237.70" stroke="#000000" stroke-width="1.90"/>
<text transform="translate(950.15 1262.00) scale(1.0800 1)" font-size="24.00" fill="#000000" stroke="#000000" stroke-width="0.30"><tspan>1100</tspan></text>
<text transform="translate(56.00 1139.03) scale(1.1000 1) rotate(-90)" font-size="34.44" fill="#ee3434"><tspan>Normal&#160;stress&#160;</tspan><tspan font-style="italic">σ</tspan><tspan>&#160;(MPa)</tspan></text>
<text transform="translate(154.00 1123.24) scale(1.1000 1) rotate(-90)" font-size="34.51" fill="#4d4d4d"><tspan>Shear&#160;stress&#160;</tspan><tspan font-style="italic">τ</tspan><tspan>&#160;(MPa)</tspan></text>
<text transform="translate(1062.30 1113.73) scale(1.1000 1) rotate(-90)" font-size="34.25" fill="#0062dd"><tspan>Friction&#160;coefficient</tspan></text>
<text transform="translate(1147.70 1157.61) scale(1.1000 1) rotate(-90)" font-size="34.02" fill="#26a35d"><tspan>Shear&#160;displacement&#160;(mm)</tspan></text>
<text transform="translate(1271.00 1123.02) scale(1.1000 1) rotate(-90)" font-size="34.09" fill="#008080"><tspan>Slip&#160;velocity&#160;(mm/s)</tspan></text>
<text transform="translate(543.09 1302.60) scale(1.1179 1)" font-size="27.20" fill="#000000"><tspan>Time&#160;(s)</tspan></text>
<text transform="translate(224.26 729.60) scale(1.1134 1)" font-size="17.20" fill="#000000" stroke="#000000" stroke-width="0.45"><tspan>Stage&#160;I</tspan></text>
<text transform="translate(341.47 728.80) scale(1.1035 1)" font-size="17.20" fill="#000000" stroke="#000000" stroke-width="0.45"><tspan>Stage&#160;II</tspan></text>
<text transform="translate(657.28 730.80) scale(1.0800 1)" font-size="21.70" fill="#000000" stroke="#000000" stroke-width="0.40"><tspan>Stage&#160;III</tspan></text>
<line x1="296.30" y1="735.80" x2="296.30" y2="1229.50" stroke="#ff00ff" stroke-width="2.00" stroke-dasharray="9.40 8.10" stroke-dashoffset="4.90"/>
<line x1="427.20" y1="735.80" x2="427.20" y2="1229.50" stroke="#ff00ff" stroke-width="2.00" stroke-dasharray="9.40 8.10" stroke-dashoffset="4.90"/>
<polyline points="211.3,1229.5 212.0,1228.8 213.0,1227.8 214.3,1226.7 216.0,1225.5 218.0,1224.2 220.4,1222.8 223.1,1221.4 226.0,1220.0 229.1,1218.7 232.4,1217.4 236.0,1216.2 240.0,1215.0 244.6,1213.9 249.6,1212.9 254.9,1211.9 260.0,1211.0 265.1,1210.1 270.2,1209.2 275.3,1208.3 280.0,1207.5 284.2,1206.8 288.1,1206.1 292.0,1205.5 296.0,1205.0 300.3,1204.8 304.8,1204.7 309.3,1204.7 313.8,1204.6 318.3,1204.3 322.9,1203.8 327.4,1203.4 332.0,1202.9 336.5,1202.5 341.0,1202.1 345.6,1201.7 350.1,1201.2 354.7,1200.8 359.2,1200.4 363.7,1200.0 368.3,1199.6 372.8,1199.1 377.4,1198.7 381.9,1198.3 386.4,1197.9 391.0,1197.4 395.7,1196.9 400.3,1196.5 404.6,1196.2 408.5,1196.1 412.1,1196.1 415.8,1196.2 420.0,1196.2 424.9,1196.2 430.3,1196.2 435.8,1196.2 441.3,1196.2 446.6,1196.2 452.0,1196.2 457.3,1196.2 462.6,1196.2 467.9,1196.2 473.2,1196.3 478.6,1196.3 483.9,1196.3 489.2,1196.3 494.6,1196.3 499.9,1196.3 505.2,1196.3 510.5,1196.3 515.9,1196.3 521.2,1196.3 526.5,1196.3 531.8,1196.3 537.1,1196.3 542.5,1196.3 547.8,1196.3 553.1,1196.3 558.5,1196.3 563.8,1196.4 569.1,1196.4 574.4,1196.4 579.8,1196.4 585.1,1196.4 590.4,1196.4 595.9,1196.4 601.6,1196.6 607.0,1196.6 611.7,1196.4 615.3,1195.9 618.2,1195.3 620.8,1194.5 623.6,1193.8 626.3,1193.2 628.9,1192.5 631.8,1191.9 635.4,1191.2 640.1,1190.5 645.6,1189.8 651.3,1189.1 656.9,1188.4 662.4,1187.7 668.0,1187.0 673.4,1186.3 678.5,1185.6 683.1,1185.0 687.4,1184.5 691.5,1184.0 695.8,1183.4 700.1,1182.9 704.4,1182.3 708.7,1181.8 713.0,1181.3 717.3,1181.0 721.6,1180.7 725.9,1180.5 730.2,1180.3 734.5,1180.0 738.9,1179.8 743.2,1179.5 747.5,1179.3 751.7,1179.0 755.8,1178.8 760.1,1178.5 764.7,1178.3 769.8,1178.1 775.2,1178.0 780.8,1177.8 786.3,1177.6 791.8,1177.5 797.4,1177.3 802.8,1177.1 807.8,1177.0 812.2,1176.9 816.2,1176.8 820.0,1176.8 823.9,1176.8 827.9,1176.7 831.9,1176.7 836.0,1176.6 840.0,1176.5 844.0,1176.3 848.1,1176.0 852.1,1175.7 856.2,1175.4 860.2,1175.1 864.2,1174.9 868.3,1174.6 872.3,1174.3 876.3,1174.0 880.4,1173.6 884.4,1173.3 888.4,1172.9 892.6,1172.6 896.8,1172.3 900.8,1172.0 904.6,1171.6 908.0,1171.1 911.0,1170.6 914.0,1170.0 917.0,1169.4 920.0,1169.0 923.0,1168.7 926.0,1168.2 929.4,1167.3 933.4,1165.8 937.7,1163.8 942.0,1161.7 945.5,1159.8 948.1,1158.3 950.0,1156.9 951.6,1155.4 953.1,1153.8 954.5,1151.9 955.6,1149.9 956.6,1147.6 957.4,1145.2 958.1,1142.6 958.5,1139.8 958.9,1136.8 959.5,1133.4 960.3,1129.2 961.3,1124.3 962.2,1119.8 962.8,1116.7" fill="none" stroke="#26a35d" stroke-width="2.00" stroke-linejoin="round" stroke-linecap="round"/>
<polyline points="296.3,1176.6 313.1,1176.6 320.0,1166.9 343.1,1146.2 367.7,1129.2 380.0,1123.1 392.3,1119.7 402.3,1118.5 426.2,1126.5 633.3,1116.9 846.5,1116.9 962.8,1110.8" fill="none" stroke="#0062dd" stroke-width="2.00" stroke-linejoin="round" stroke-linecap="round"/>
<polyline points="427.5,1061.5 429.0,1112.3 429.8,1036.5 431.3,1041.5 434.0,1063.5 435.4,1040.0 436.3,1056.2 440.2,1069.6 442.8,1043.5 444.4,1058.5 447.1,1068.8 448.6,1031.2 450.2,1070.8 452.3,1050.4 453.6,1102.3 454.8,1095.4 455.5,1142.3 456.3,1048.8 457.1,1061.9 459.8,1056.9 460.9,1079.2 464.4,1034.2 468.2,1056.9 469.5,1108.0 470.5,1069.6 472.8,1075.8 473.6,1040.0 476.3,1088.8 480.5,1029.2 483.2,1064.2 484.4,1038.5 485.5,1119.6 487.7,1035.0 488.6,1051.2 491.3,1034.6 494.4,1048.5 497.8,1043.5 498.8,1031.2 500.9,1058.5 503.6,1068.5 505.7,1042.7 506.7,1063.1 510.0,1035.4 513.4,1093.8 515.2,1044.2 519.0,1069.2 520.0,1042.3 520.9,1055.4 523.8,1055.4 526.5,1053.8 527.9,1033.8 530.8,1084.2 531.9,1068.8 532.7,1097.7 534.1,1044.6 535.2,1118.8 537.7,1049.6 538.8,1084.2 540.2,1068.1 541.2,1174.0 543.8,1060.8 546.9,1058.1 547.5,1024.6 548.8,1051.5 550.8,1050.8 555.0,1045.4 555.2,1039.6 556.5,1101.5 560.6,1026.9 561.5,1044.2 564.8,1042.7 565.8,1081.9 569.2,1047.3 572.9,1031.5 574.1,1051.2 576.2,1037.7 579.2,1042.3 580.2,1078.1 583.8,1043.5 585.0,1051.5 587.3,1036.9 589.2,1083.5 590.6,1064.6 591.5,1074.2 595.0,1063.5 596.9,1123.1 598.8,1037.3 600.8,1086.5 603.1,1043.5 606.0,1094.2 608.5,1034.2 609.2,1025.8 610.0,1033.5 611.9,1032.7 612.3,1002.3 613.5,1001.5 614.2,1004.6 615.8,995.4 617.7,991.2 618.8,991.5 621.3,987.7 623.1,991.5 624.2,992.7 625.9,998.5 627.9,990.8 630.0,997.3 631.9,994.2 633.5,995.0 634.6,999.2 635.8,995.8 637.2,996.5 639.6,1002.7 642.3,998.8 644.2,1005.0 646.5,1003.8 647.7,1006.9 648.5,1003.8 649.6,1010.4 651.9,999.6 654.2,1008.8 655.8,1005.0 658.1,1006.2 659.2,1009.6 661.5,1001.9 664.2,1013.8 667.3,1003.5 668.8,1016.5 670.8,1003.5 672.7,1011.5 673.8,1006.5 675.4,1018.1 676.9,1005.4 678.5,1013.5 680.8,1000.8 682.7,1010.0 685.0,999.6 686.2,1003.8 688.1,994.2 689.6,997.7 691.2,995.8 693.5,1006.2 695.8,998.1 698.8,1004.2 700.8,997.7 702.7,1000.0 703.8,1010.8 706.2,1005.0 707.5,1014.2 709.2,1004.2 710.4,1005.4 712.7,1020.4 714.6,1007.3 716.5,1021.9 717.7,1014.6 718.8,1017.7 722.3,1017.7 725.8,1013.5 728.1,1025.0 730.4,1015.0 731.5,1023.8 733.8,1012.3 735.8,1025.8 737.7,1014.6 739.6,1045.4 742.3,1016.5 743.8,1018.8 745.8,1012.3 747.3,1025.4 749.2,1017.3 750.8,1023.8 752.3,1014.6 754.2,1034.2 757.3,1013.5 759.2,1040.4 761.2,1014.2 763.5,1043.1 764.6,1023.8 766.3,1044.2 768.1,1005.8 770.2,1037.3 774.2,1016.5 776.9,1042.7 779.2,1006.5 780.8,1045.0 783.1,1031.9 785.4,1015.4 787.3,1052.3 788.5,1026.9 790.4,1061.2 791.9,1026.9 793.8,1015.0 795.8,1083.1 797.3,1026.2 798.5,1040.0 800.0,1034.2 802.7,1046.9 803.5,1092.3 805.0,1026.2 806.5,1069.2 808.1,1026.5 810.0,1045.8 811.2,1031.5 813.8,1056.2 816.9,1027.3 818.8,1057.7 822.7,1028.8 824.2,1056.9 826.5,1034.2 828.1,1120.4 830.4,1031.9 832.3,1083.5 835.0,1020.4 837.5,1062.0 838.8,1050.0 840.8,1029.6 842.3,1112.3 844.2,1033.1 845.4,1136.5 848.1,1028.5 849.2,1025.8 851.2,1036.9 852.7,1028.5 854.6,1020.0 855.8,1025.0 858.1,1023.8 858.8,1030.0 860.8,1016.9 862.7,1018.5 864.6,1030.8 866.2,1013.5 867.7,1027.3 870.0,1013.1 871.9,1028.5 875.0,1019.6 878.1,1013.8 880.8,1025.0 883.8,1008.8 885.9,1017.7 889.7,1009.1 891.4,1015.6 892.8,1011.5 894.2,1019.1 896.6,1009.4 900.1,1006.0 901.8,1011.5 904.2,1008.0 905.6,997.0 907.4,1006.6 909.1,997.0 911.9,999.7 914.6,995.2 917.7,1001.1 919.8,991.4 922.9,995.2 925.0,993.5 928.1,995.2 931.2,978.3 934.7,977.6 939.6,974.1 942.3,975.1 944.4,977.9 946.5,967.2 949.3,964.1 952.4,962.7 953.4,955.4 956.2,938.8 958.6,922.9 960.0,920.1 961.7,916.6 962.8,909.4" fill="none" stroke="#008080" stroke-width="1.60" stroke-linejoin="round" stroke-linecap="round"/>
<polyline points="211.3,1229.5 295.2,897.3 312.5,897.3 319.2,885.2 323.0,880.4 336.5,864.0 344.2,853.5 353.8,840.5 369.6,820.4 380.0,808.9 391.5,800.8 402.0,798.5 427.3,815.3 635.0,849.5 844.6,849.4 962.8,869.1" fill="none" stroke="#ee3434" stroke-width="2.00" stroke-linejoin="round" stroke-linecap="round"/>
<polyline points="211.3,1229.5 295.4,1109.2 313.1,1109.6 316.9,1092.3 320.0,1083.1 323.8,1070.0 325.0,1067.9 344.2,1015.0 353.8,991.9 368.3,951.5 378.8,927.5 389.4,910.2 401.9,903.5 426.9,938.5 962.8,938.6" fill="none" stroke="#484848" stroke-width="2.00" stroke-linejoin="round" stroke-linecap="round"/>
<text transform="translate(581.06 1377.60) scale(1.0000 1)" font-size="38.00" fill="#000"><tspan font-style="italic">σ</tspan></text>
<text transform="translate(599.06 1380.30) scale(1.0000 1)" font-size="26.00" fill="#000"><tspan>ct</tspan></text>
<rect x="623.80" y="1361.20" width="19.80" height="1.80" fill="#000"/>
<rect x="623.80" y="1368.30" width="19.80" height="1.80" fill="#000"/>
<text transform="translate(651.64 1377.60) scale(0.9732 1)" font-size="38.00" fill="#000"><tspan>20&#160;MPa</tspan></text>
</g>
<g>
<text transform="translate(0.52 1459.00) scale(0.9350 1)" font-size="42.30" fill="#000" stroke="#000" stroke-width="0.80"><tspan font-weight="bold" font-family="Liberation Sans">C</tspan></text>
<line x1="104.00" y1="1453.45" x2="104.00" y2="2007.75" stroke="#ee3434" stroke-width="2.10"/>
<line x1="104.00" y1="2006.70" x2="91.40" y2="2006.70" stroke="#ee3434" stroke-width="2.10"/>
<text transform="translate(66.58 2015.60) scale(1.0700 1)" font-size="29.30" fill="#ee3434" stroke="#ee3434" stroke-width="0.30"><tspan>0</tspan></text>
<line x1="104.00" y1="1979.09" x2="98.20" y2="1979.09" stroke="#ee3434" stroke-width="2.10"/>
<line x1="104.00" y1="1951.48" x2="91.40" y2="1951.48" stroke="#ee3434" stroke-width="2.10"/>
<text transform="translate(66.27 1960.38) scale(1.0700 1)" font-size="29.30" fill="#ee3434" stroke="#ee3434" stroke-width="0.30"><tspan>7</tspan></text>
<line x1="104.00" y1="1923.87" x2="98.20" y2="1923.87" stroke="#ee3434" stroke-width="2.10"/>
<line x1="104.00" y1="1896.26" x2="91.40" y2="1896.26" stroke="#ee3434" stroke-width="2.10"/>
<text transform="translate(50.12 1905.16) scale(1.0700 1)" font-size="29.30" fill="#ee3434" stroke="#ee3434" stroke-width="0.30"><tspan>14</tspan></text>
<line x1="104.00" y1="1868.65" x2="98.20" y2="1868.65" stroke="#ee3434" stroke-width="2.10"/>
<line x1="104.00" y1="1841.04" x2="91.40" y2="1841.04" stroke="#ee3434" stroke-width="2.10"/>
<text transform="translate(51.53 1849.94) scale(1.0700 1)" font-size="29.30" fill="#ee3434" stroke="#ee3434" stroke-width="0.30"><tspan>21</tspan></text>
<line x1="104.00" y1="1813.43" x2="98.20" y2="1813.43" stroke="#ee3434" stroke-width="2.10"/>
<line x1="104.00" y1="1785.82" x2="91.40" y2="1785.82" stroke="#ee3434" stroke-width="2.10"/>
<text transform="translate(50.90 1794.72) scale(1.0700 1)" font-size="29.30" fill="#ee3434" stroke="#ee3434" stroke-width="0.30"><tspan>28</tspan></text>
<line x1="104.00" y1="1758.21" x2="98.20" y2="1758.21" stroke="#ee3434" stroke-width="2.10"/>
<line x1="104.00" y1="1730.60" x2="91.40" y2="1730.60" stroke="#ee3434" stroke-width="2.10"/>
<text transform="translate(50.90 1739.50) scale(1.0700 1)" font-size="29.30" fill="#ee3434" stroke="#ee3434" stroke-width="0.30"><tspan>35</tspan></text>
<line x1="104.00" y1="1702.99" x2="98.20" y2="1702.99" stroke="#ee3434" stroke-width="2.10"/>
<line x1="104.00" y1="1675.38" x2="91.40" y2="1675.38" stroke="#ee3434" stroke-width="2.10"/>
<text transform="translate(51.37 1684.28) scale(1.0700 1)" font-size="29.30" fill="#ee3434" stroke="#ee3434" stroke-width="0.30"><tspan>42</tspan></text>
<line x1="104.00" y1="1647.77" x2="98.20" y2="1647.77" stroke="#ee3434" stroke-width="2.10"/>
<line x1="104.00" y1="1620.16" x2="91.40" y2="1620.16" stroke="#ee3434" stroke-width="2.10"/>
<text transform="translate(50.90 1629.06) scale(1.0700 1)" font-size="29.30" fill="#ee3434" stroke="#ee3434" stroke-width="0.30"><tspan>49</tspan></text>
<line x1="104.00" y1="1592.55" x2="98.20" y2="1592.55" stroke="#ee3434" stroke-width="2.10"/>
<line x1="104.00" y1="1564.94" x2="91.40" y2="1564.94" stroke="#ee3434" stroke-width="2.10"/>
<text transform="translate(50.59 1573.84) scale(1.0700 1)" font-size="29.30" fill="#ee3434" stroke="#ee3434" stroke-width="0.30"><tspan>56</tspan></text>
<line x1="104.00" y1="1537.33" x2="98.20" y2="1537.33" stroke="#ee3434" stroke-width="2.10"/>
<line x1="104.00" y1="1509.72" x2="91.40" y2="1509.72" stroke="#ee3434" stroke-width="2.10"/>
<text transform="translate(50.90 1518.62) scale(1.0700 1)" font-size="29.30" fill="#ee3434" stroke="#ee3434" stroke-width="0.30"><tspan>63</tspan></text>
<line x1="104.00" y1="1482.11" x2="98.20" y2="1482.11" stroke="#ee3434" stroke-width="2.10"/>
<line x1="104.00" y1="1454.50" x2="91.40" y2="1454.50" stroke="#ee3434" stroke-width="2.10"/>
<text transform="translate(50.90 1463.40) scale(1.0700 1)" font-size="29.30" fill="#ee3434" stroke="#ee3434" stroke-width="0.30"><tspan>70</tspan></text>
<line x1="213.60" y1="1453.45" x2="213.60" y2="2007.75" stroke="#4d4d4d" stroke-width="2.10"/>
<line x1="213.60" y1="2006.70" x2="200.10" y2="2006.70" stroke="#4d4d4d" stroke-width="2.10"/>
<text transform="translate(175.51 2015.60) scale(1.0600 1)" font-size="29.30" fill="#4d4d4d" stroke="#4d4d4d" stroke-width="0.30"><tspan>0</tspan></text>
<line x1="213.60" y1="1979.09" x2="207.40" y2="1979.09" stroke="#4d4d4d" stroke-width="2.10"/>
<line x1="213.60" y1="1951.48" x2="200.10" y2="1951.48" stroke="#4d4d4d" stroke-width="2.10"/>
<text transform="translate(175.51 1960.38) scale(1.0600 1)" font-size="29.30" fill="#4d4d4d" stroke="#4d4d4d" stroke-width="0.30"><tspan>5</tspan></text>
<line x1="213.60" y1="1923.87" x2="207.40" y2="1923.87" stroke="#4d4d4d" stroke-width="2.10"/>
<line x1="213.60" y1="1896.26" x2="200.10" y2="1896.26" stroke="#4d4d4d" stroke-width="2.10"/>
<text transform="translate(159.98 1905.16) scale(1.0600 1)" font-size="29.30" fill="#4d4d4d" stroke="#4d4d4d" stroke-width="0.30"><tspan>10</tspan></text>
<line x1="213.60" y1="1868.65" x2="207.40" y2="1868.65" stroke="#4d4d4d" stroke-width="2.10"/>
<line x1="213.60" y1="1841.04" x2="200.10" y2="1841.04" stroke="#4d4d4d" stroke-width="2.10"/>
<text transform="translate(159.98 1849.94) scale(1.0600 1)" font-size="29.30" fill="#4d4d4d" stroke="#4d4d4d" stroke-width="0.30"><tspan>15</tspan></text>
<line x1="213.60" y1="1813.43" x2="207.40" y2="1813.43" stroke="#4d4d4d" stroke-width="2.10"/>
<line x1="213.60" y1="1785.82" x2="200.10" y2="1785.82" stroke="#4d4d4d" stroke-width="2.10"/>
<text transform="translate(159.98 1794.72) scale(1.0600 1)" font-size="29.30" fill="#4d4d4d" stroke="#4d4d4d" stroke-width="0.30"><tspan>20</tspan></text>
<line x1="213.60" y1="1758.21" x2="207.40" y2="1758.21" stroke="#4d4d4d" stroke-width="2.10"/>
<line x1="213.60" y1="1730.60" x2="200.10" y2="1730.60" stroke="#4d4d4d" stroke-width="2.10"/>
<text transform="translate(159.98 1739.50) scale(1.0600 1)" font-size="29.30" fill="#4d4d4d" stroke="#4d4d4d" stroke-width="0.30"><tspan>25</tspan></text>
<line x1="213.60" y1="1702.99" x2="207.40" y2="1702.99" stroke="#4d4d4d" stroke-width="2.10"/>
<line x1="213.60" y1="1675.38" x2="200.10" y2="1675.38" stroke="#4d4d4d" stroke-width="2.10"/>
<text transform="translate(159.98 1684.28) scale(1.0600 1)" font-size="29.30" fill="#4d4d4d" stroke="#4d4d4d" stroke-width="0.30"><tspan>30</tspan></text>
<line x1="213.60" y1="1647.77" x2="207.40" y2="1647.77" stroke="#4d4d4d" stroke-width="2.10"/>
<line x1="213.60" y1="1620.16" x2="200.10" y2="1620.16" stroke="#4d4d4d" stroke-width="2.10"/>
<text transform="translate(159.98 1629.06) scale(1.0600 1)" font-size="29.30" fill="#4d4d4d" stroke="#4d4d4d" stroke-width="0.30"><tspan>35</tspan></text>
<line x1="213.60" y1="1592.55" x2="207.40" y2="1592.55" stroke="#4d4d4d" stroke-width="2.10"/>
<line x1="213.60" y1="1564.94" x2="200.10" y2="1564.94" stroke="#4d4d4d" stroke-width="2.10"/>
<text transform="translate(159.98 1573.84) scale(1.0600 1)" font-size="29.30" fill="#4d4d4d" stroke="#4d4d4d" stroke-width="0.30"><tspan>40</tspan></text>
<line x1="213.60" y1="1537.33" x2="207.40" y2="1537.33" stroke="#4d4d4d" stroke-width="2.10"/>
<line x1="213.60" y1="1509.72" x2="200.10" y2="1509.72" stroke="#4d4d4d" stroke-width="2.10"/>
<text transform="translate(159.98 1518.62) scale(1.0600 1)" font-size="29.30" fill="#4d4d4d" stroke="#4d4d4d" stroke-width="0.30"><tspan>45</tspan></text>
<line x1="213.60" y1="1482.11" x2="207.40" y2="1482.11" stroke="#4d4d4d" stroke-width="2.10"/>
<line x1="213.60" y1="1454.50" x2="200.10" y2="1454.50" stroke="#4d4d4d" stroke-width="2.10"/>
<text transform="translate(159.98 1463.40) scale(1.0600 1)" font-size="29.30" fill="#4d4d4d" stroke="#4d4d4d" stroke-width="0.30"><tspan>50</tspan></text>
<line x1="941.70" y1="1453.45" x2="941.70" y2="2007.75" stroke="#0062dd" stroke-width="2.10"/>
<line x1="941.70" y1="2006.70" x2="954.70" y2="2006.70" stroke="#0062dd" stroke-width="2.10"/>
<text transform="translate(963.58 2015.60) scale(1.0400 1)" font-size="29.30" fill="#0062dd" stroke="#0062dd" stroke-width="0.30"><tspan>0.0</tspan></text>
<line x1="941.70" y1="1967.26" x2="947.90" y2="1967.26" stroke="#0062dd" stroke-width="2.10"/>
<line x1="941.70" y1="1927.81" x2="954.70" y2="1927.81" stroke="#0062dd" stroke-width="2.10"/>
<text transform="translate(963.58 1936.71) scale(1.0400 1)" font-size="29.30" fill="#0062dd" stroke="#0062dd" stroke-width="0.30"><tspan>0.4</tspan></text>
<line x1="941.70" y1="1888.37" x2="947.90" y2="1888.37" stroke="#0062dd" stroke-width="2.10"/>
<line x1="941.70" y1="1848.93" x2="954.70" y2="1848.93" stroke="#0062dd" stroke-width="2.10"/>
<text transform="translate(963.58 1857.83) scale(1.0400 1)" font-size="29.30" fill="#0062dd" stroke="#0062dd" stroke-width="0.30"><tspan>0.8</tspan></text>
<line x1="941.70" y1="1809.49" x2="947.90" y2="1809.49" stroke="#0062dd" stroke-width="2.10"/>
<line x1="941.70" y1="1770.04" x2="954.70" y2="1770.04" stroke="#0062dd" stroke-width="2.10"/>
<text transform="translate(962.21 1778.94) scale(1.0400 1)" font-size="29.30" fill="#0062dd" stroke="#0062dd" stroke-width="0.30"><tspan>1.2</tspan></text>
<line x1="941.70" y1="1730.60" x2="947.90" y2="1730.60" stroke="#0062dd" stroke-width="2.10"/>
<line x1="941.70" y1="1691.16" x2="954.70" y2="1691.16" stroke="#0062dd" stroke-width="2.10"/>
<text transform="translate(962.21 1700.06) scale(1.0400 1)" font-size="29.30" fill="#0062dd" stroke="#0062dd" stroke-width="0.30"><tspan>1.6</tspan></text>
<line x1="941.70" y1="1651.71" x2="947.90" y2="1651.71" stroke="#0062dd" stroke-width="2.10"/>
<line x1="941.70" y1="1612.27" x2="954.70" y2="1612.27" stroke="#0062dd" stroke-width="2.10"/>
<text transform="translate(963.43 1621.17) scale(1.0400 1)" font-size="29.30" fill="#0062dd" stroke="#0062dd" stroke-width="0.30"><tspan>2.0</tspan></text>
<line x1="941.70" y1="1572.83" x2="947.90" y2="1572.83" stroke="#0062dd" stroke-width="2.10"/>
<line x1="941.70" y1="1533.39" x2="954.70" y2="1533.39" stroke="#0062dd" stroke-width="2.10"/>
<text transform="translate(963.43 1542.29) scale(1.0400 1)" font-size="29.30" fill="#0062dd" stroke="#0062dd" stroke-width="0.30"><tspan>2.4</tspan></text>
<line x1="941.70" y1="1493.94" x2="947.90" y2="1493.94" stroke="#0062dd" stroke-width="2.10"/>
<line x1="941.70" y1="1454.50" x2="954.70" y2="1454.50" stroke="#0062dd" stroke-width="2.10"/>
<text transform="translate(963.43 1463.40) scale(1.0400 1)" font-size="29.30" fill="#0062dd" stroke="#0062dd" stroke-width="0.30"><tspan>2.8</tspan></text>
<line x1="1052.40" y1="1453.45" x2="1052.40" y2="2007.75" stroke="#26a35d" stroke-width="2.10"/>
<line x1="1052.40" y1="2006.70" x2="1065.10" y2="2006.70" stroke="#26a35d" stroke-width="2.10"/>
<text transform="translate(1074.77 2015.50) scale(1.0600 1)" font-size="29.00" fill="#26a35d" stroke="#26a35d" stroke-width="0.30"><tspan>0</tspan></text>
<line x1="1052.40" y1="1979.09" x2="1058.40" y2="1979.09" stroke="#26a35d" stroke-width="2.10"/>
<line x1="1052.40" y1="1951.48" x2="1065.10" y2="1951.48" stroke="#26a35d" stroke-width="2.10"/>
<text transform="translate(1074.62 1960.28) scale(1.0600 1)" font-size="29.00" fill="#26a35d" stroke="#26a35d" stroke-width="0.30"><tspan>2</tspan></text>
<line x1="1052.40" y1="1923.87" x2="1058.40" y2="1923.87" stroke="#26a35d" stroke-width="2.10"/>
<line x1="1052.40" y1="1896.26" x2="1065.10" y2="1896.26" stroke="#26a35d" stroke-width="2.10"/>
<text transform="translate(1075.39 1905.06) scale(1.0600 1)" font-size="29.00" fill="#26a35d" stroke="#26a35d" stroke-width="0.30"><tspan>4</tspan></text>
<line x1="1052.40" y1="1868.65" x2="1058.40" y2="1868.65" stroke="#26a35d" stroke-width="2.10"/>
<line x1="1052.40" y1="1841.04" x2="1065.10" y2="1841.04" stroke="#26a35d" stroke-width="2.10"/>
<text transform="translate(1074.77 1849.84) scale(1.0600 1)" font-size="29.00" fill="#26a35d" stroke="#26a35d" stroke-width="0.30"><tspan>6</tspan></text>
<line x1="1052.40" y1="1813.43" x2="1058.40" y2="1813.43" stroke="#26a35d" stroke-width="2.10"/>
<line x1="1052.40" y1="1785.82" x2="1065.10" y2="1785.82" stroke="#26a35d" stroke-width="2.10"/>
<text transform="translate(1074.77 1794.62) scale(1.0600 1)" font-size="29.00" fill="#26a35d" stroke="#26a35d" stroke-width="0.30"><tspan>8</tspan></text>
<line x1="1052.40" y1="1758.21" x2="1058.40" y2="1758.21" stroke="#26a35d" stroke-width="2.10"/>
<line x1="1052.40" y1="1730.60" x2="1065.10" y2="1730.60" stroke="#26a35d" stroke-width="2.10"/>
<text transform="translate(1073.39 1739.40) scale(1.0600 1)" font-size="29.00" fill="#26a35d" stroke="#26a35d" stroke-width="0.30"><tspan>10</tspan></text>
<line x1="1052.40" y1="1702.99" x2="1058.40" y2="1702.99" stroke="#26a35d" stroke-width="2.10"/>
<line x1="1052.40" y1="1675.38" x2="1065.10" y2="1675.38" stroke="#26a35d" stroke-width="2.10"/>
<text transform="translate(1073.39 1684.18) scale(1.0600 1)" font-size="29.00" fill="#26a35d" stroke="#26a35d" stroke-width="0.30"><tspan>12</tspan></text>
<line x1="1052.40" y1="1647.77" x2="1058.40" y2="1647.77" stroke="#26a35d" stroke-width="2.10"/>
<line x1="1052.40" y1="1620.16" x2="1065.10" y2="1620.16" stroke="#26a35d" stroke-width="2.10"/>
<text transform="translate(1073.39 1628.96) scale(1.0600 1)" font-size="29.00" fill="#26a35d" stroke="#26a35d" stroke-width="0.30"><tspan>14</tspan></text>
<line x1="1052.40" y1="1592.55" x2="1058.40" y2="1592.55" stroke="#26a35d" stroke-width="2.10"/>
<line x1="1052.40" y1="1564.94" x2="1065.10" y2="1564.94" stroke="#26a35d" stroke-width="2.10"/>
<text transform="translate(1073.39 1573.74) scale(1.0600 1)" font-size="29.00" fill="#26a35d" stroke="#26a35d" stroke-width="0.30"><tspan>16</tspan></text>
<line x1="1052.40" y1="1537.33" x2="1058.40" y2="1537.33" stroke="#26a35d" stroke-width="2.10"/>
<line x1="1052.40" y1="1509.72" x2="1065.10" y2="1509.72" stroke="#26a35d" stroke-width="2.10"/>
<text transform="translate(1073.39 1518.52) scale(1.0600 1)" font-size="29.00" fill="#26a35d" stroke="#26a35d" stroke-width="0.30"><tspan>18</tspan></text>
<line x1="1052.40" y1="1482.11" x2="1058.40" y2="1482.11" stroke="#26a35d" stroke-width="2.10"/>
<line x1="1052.40" y1="1454.50" x2="1065.10" y2="1454.50" stroke="#26a35d" stroke-width="2.10"/>
<text transform="translate(1074.62 1463.30) scale(1.0600 1)" font-size="29.00" fill="#26a35d" stroke="#26a35d" stroke-width="0.30"><tspan>20</tspan></text>
<line x1="1170.00" y1="1453.30" x2="1170.00" y2="2007.90" stroke="#008080" stroke-width="2.40"/>
<line x1="1170.00" y1="2006.70" x2="1182.50" y2="2006.70" stroke="#008080" stroke-width="2.10"/>
<text transform="translate(1192.15 2015.50) scale(1.0000 1)" font-size="28.80" fill="#008080" stroke="#008080" stroke-width="0.30"><tspan>1E-9</tspan></text>
<line x1="1170.00" y1="1992.85" x2="1176.00" y2="1992.85" stroke="#008080" stroke-width="1.40"/>
<line x1="1170.00" y1="1984.74" x2="1176.00" y2="1984.74" stroke="#008080" stroke-width="1.40"/>
<line x1="1170.00" y1="1979.00" x2="1176.00" y2="1979.00" stroke="#008080" stroke-width="1.40"/>
<line x1="1170.00" y1="1974.54" x2="1176.00" y2="1974.54" stroke="#008080" stroke-width="1.40"/>
<line x1="1170.00" y1="1970.89" x2="1176.00" y2="1970.89" stroke="#008080" stroke-width="1.40"/>
<line x1="1170.00" y1="1967.81" x2="1176.00" y2="1967.81" stroke="#008080" stroke-width="1.40"/>
<line x1="1170.00" y1="1965.14" x2="1176.00" y2="1965.14" stroke="#008080" stroke-width="1.40"/>
<line x1="1170.00" y1="1962.79" x2="1176.00" y2="1962.79" stroke="#008080" stroke-width="1.40"/>
<line x1="1170.00" y1="1960.68" x2="1182.50" y2="1960.68" stroke="#008080" stroke-width="2.10"/>
<text transform="translate(1192.15 1969.48) scale(1.0000 1)" font-size="28.80" fill="#008080" stroke="#008080" stroke-width="0.30"><tspan>1E-8</tspan></text>
<line x1="1170.00" y1="1946.83" x2="1176.00" y2="1946.83" stroke="#008080" stroke-width="1.40"/>
<line x1="1170.00" y1="1938.73" x2="1176.00" y2="1938.73" stroke="#008080" stroke-width="1.40"/>
<line x1="1170.00" y1="1932.98" x2="1176.00" y2="1932.98" stroke="#008080" stroke-width="1.40"/>
<line x1="1170.00" y1="1928.52" x2="1176.00" y2="1928.52" stroke="#008080" stroke-width="1.40"/>
<line x1="1170.00" y1="1924.88" x2="1176.00" y2="1924.88" stroke="#008080" stroke-width="1.40"/>
<line x1="1170.00" y1="1921.79" x2="1176.00" y2="1921.79" stroke="#008080" stroke-width="1.40"/>
<line x1="1170.00" y1="1919.13" x2="1176.00" y2="1919.13" stroke="#008080" stroke-width="1.40"/>
<line x1="1170.00" y1="1916.77" x2="1176.00" y2="1916.77" stroke="#008080" stroke-width="1.40"/>
<line x1="1170.00" y1="1914.67" x2="1182.50" y2="1914.67" stroke="#008080" stroke-width="2.10"/>
<text transform="translate(1192.15 1923.47) scale(1.0000 1)" font-size="28.80" fill="#008080" stroke="#008080" stroke-width="0.30"><tspan>1E-7</tspan></text>
<line x1="1170.00" y1="1900.81" x2="1176.00" y2="1900.81" stroke="#008080" stroke-width="1.40"/>
<line x1="1170.00" y1="1892.71" x2="1176.00" y2="1892.71" stroke="#008080" stroke-width="1.40"/>
<line x1="1170.00" y1="1886.96" x2="1176.00" y2="1886.96" stroke="#008080" stroke-width="1.40"/>
<line x1="1170.00" y1="1882.50" x2="1176.00" y2="1882.50" stroke="#008080" stroke-width="1.40"/>
<line x1="1170.00" y1="1878.86" x2="1176.00" y2="1878.86" stroke="#008080" stroke-width="1.40"/>
<line x1="1170.00" y1="1875.78" x2="1176.00" y2="1875.78" stroke="#008080" stroke-width="1.40"/>
<line x1="1170.00" y1="1873.11" x2="1176.00" y2="1873.11" stroke="#008080" stroke-width="1.40"/>
<line x1="1170.00" y1="1870.76" x2="1176.00" y2="1870.76" stroke="#008080" stroke-width="1.40"/>
<line x1="1170.00" y1="1868.65" x2="1182.50" y2="1868.65" stroke="#008080" stroke-width="2.10"/>
<text transform="translate(1192.15 1877.45) scale(1.0000 1)" font-size="28.80" fill="#008080" stroke="#008080" stroke-width="0.30"><tspan>1E-6</tspan></text>
<line x1="1170.00" y1="1854.80" x2="1176.00" y2="1854.80" stroke="#008080" stroke-width="1.40"/>
<line x1="1170.00" y1="1846.69" x2="1176.00" y2="1846.69" stroke="#008080" stroke-width="1.40"/>
<line x1="1170.00" y1="1840.95" x2="1176.00" y2="1840.95" stroke="#008080" stroke-width="1.40"/>
<line x1="1170.00" y1="1836.49" x2="1176.00" y2="1836.49" stroke="#008080" stroke-width="1.40"/>
<line x1="1170.00" y1="1832.84" x2="1176.00" y2="1832.84" stroke="#008080" stroke-width="1.40"/>
<line x1="1170.00" y1="1829.76" x2="1176.00" y2="1829.76" stroke="#008080" stroke-width="1.40"/>
<line x1="1170.00" y1="1827.09" x2="1176.00" y2="1827.09" stroke="#008080" stroke-width="1.40"/>
<line x1="1170.00" y1="1824.74" x2="1176.00" y2="1824.74" stroke="#008080" stroke-width="1.40"/>
<line x1="1170.00" y1="1822.63" x2="1182.50" y2="1822.63" stroke="#008080" stroke-width="2.10"/>
<text transform="translate(1192.15 1831.43) scale(1.0000 1)" font-size="28.80" fill="#008080" stroke="#008080" stroke-width="0.30"><tspan>1E-5</tspan></text>
<line x1="1170.00" y1="1808.78" x2="1176.00" y2="1808.78" stroke="#008080" stroke-width="1.40"/>
<line x1="1170.00" y1="1800.68" x2="1176.00" y2="1800.68" stroke="#008080" stroke-width="1.40"/>
<line x1="1170.00" y1="1794.93" x2="1176.00" y2="1794.93" stroke="#008080" stroke-width="1.40"/>
<line x1="1170.00" y1="1790.47" x2="1176.00" y2="1790.47" stroke="#008080" stroke-width="1.40"/>
<line x1="1170.00" y1="1786.83" x2="1176.00" y2="1786.83" stroke="#008080" stroke-width="1.40"/>
<line x1="1170.00" y1="1783.74" x2="1176.00" y2="1783.74" stroke="#008080" stroke-width="1.40"/>
<line x1="1170.00" y1="1781.08" x2="1176.00" y2="1781.08" stroke="#008080" stroke-width="1.40"/>
<line x1="1170.00" y1="1778.72" x2="1176.00" y2="1778.72" stroke="#008080" stroke-width="1.40"/>
<line x1="1170.00" y1="1776.62" x2="1182.50" y2="1776.62" stroke="#008080" stroke-width="2.10"/>
<text transform="translate(1192.15 1785.42) scale(1.0000 1)" font-size="28.80" fill="#008080" stroke="#008080" stroke-width="0.30"><tspan>1E-4</tspan></text>
<line x1="1170.00" y1="1762.76" x2="1176.00" y2="1762.76" stroke="#008080" stroke-width="1.40"/>
<line x1="1170.00" y1="1754.66" x2="1176.00" y2="1754.66" stroke="#008080" stroke-width="1.40"/>
<line x1="1170.00" y1="1748.91" x2="1176.00" y2="1748.91" stroke="#008080" stroke-width="1.40"/>
<line x1="1170.00" y1="1744.45" x2="1176.00" y2="1744.45" stroke="#008080" stroke-width="1.40"/>
<line x1="1170.00" y1="1740.81" x2="1176.00" y2="1740.81" stroke="#008080" stroke-width="1.40"/>
<line x1="1170.00" y1="1737.73" x2="1176.00" y2="1737.73" stroke="#008080" stroke-width="1.40"/>
<line x1="1170.00" y1="1735.06" x2="1176.00" y2="1735.06" stroke="#008080" stroke-width="1.40"/>
<line x1="1170.00" y1="1732.71" x2="1176.00" y2="1732.71" stroke="#008080" stroke-width="1.40"/>
<line x1="1170.00" y1="1730.60" x2="1182.50" y2="1730.60" stroke="#008080" stroke-width="2.10"/>
<text transform="translate(1193.45 1739.40) scale(1.0000 1)" font-size="28.80" fill="#008080" stroke="#008080" stroke-width="0.30"><tspan>0.001</tspan></text>
<line x1="1170.00" y1="1716.75" x2="1176.00" y2="1716.75" stroke="#008080" stroke-width="1.40"/>
<line x1="1170.00" y1="1708.64" x2="1176.00" y2="1708.64" stroke="#008080" stroke-width="1.40"/>
<line x1="1170.00" y1="1702.90" x2="1176.00" y2="1702.90" stroke="#008080" stroke-width="1.40"/>
<line x1="1170.00" y1="1698.44" x2="1176.00" y2="1698.44" stroke="#008080" stroke-width="1.40"/>
<line x1="1170.00" y1="1694.79" x2="1176.00" y2="1694.79" stroke="#008080" stroke-width="1.40"/>
<line x1="1170.00" y1="1691.71" x2="1176.00" y2="1691.71" stroke="#008080" stroke-width="1.40"/>
<line x1="1170.00" y1="1689.04" x2="1176.00" y2="1689.04" stroke="#008080" stroke-width="1.40"/>
<line x1="1170.00" y1="1686.69" x2="1176.00" y2="1686.69" stroke="#008080" stroke-width="1.40"/>
<line x1="1170.00" y1="1684.58" x2="1182.50" y2="1684.58" stroke="#008080" stroke-width="2.10"/>
<text transform="translate(1193.45 1693.38) scale(1.0000 1)" font-size="28.80" fill="#008080" stroke="#008080" stroke-width="0.30"><tspan>0.01</tspan></text>
<line x1="1170.00" y1="1670.73" x2="1176.00" y2="1670.73" stroke="#008080" stroke-width="1.40"/>
<line x1="1170.00" y1="1662.63" x2="1176.00" y2="1662.63" stroke="#008080" stroke-width="1.40"/>
<line x1="1170.00" y1="1656.88" x2="1176.00" y2="1656.88" stroke="#008080" stroke-width="1.40"/>
<line x1="1170.00" y1="1652.42" x2="1176.00" y2="1652.42" stroke="#008080" stroke-width="1.40"/>
<line x1="1170.00" y1="1648.78" x2="1176.00" y2="1648.78" stroke="#008080" stroke-width="1.40"/>
<line x1="1170.00" y1="1645.69" x2="1176.00" y2="1645.69" stroke="#008080" stroke-width="1.40"/>
<line x1="1170.00" y1="1643.03" x2="1176.00" y2="1643.03" stroke="#008080" stroke-width="1.40"/>
<line x1="1170.00" y1="1640.67" x2="1176.00" y2="1640.67" stroke="#008080" stroke-width="1.40"/>
<line x1="1170.00" y1="1638.57" x2="1182.50" y2="1638.57" stroke="#008080" stroke-width="2.10"/>
<text transform="translate(1193.45 1647.37) scale(1.0000 1)" font-size="28.80" fill="#008080" stroke="#008080" stroke-width="0.30"><tspan>0.1</tspan></text>
<line x1="1170.00" y1="1624.71" x2="1176.00" y2="1624.71" stroke="#008080" stroke-width="1.40"/>
<line x1="1170.00" y1="1616.61" x2="1176.00" y2="1616.61" stroke="#008080" stroke-width="1.40"/>
<line x1="1170.00" y1="1610.86" x2="1176.00" y2="1610.86" stroke="#008080" stroke-width="1.40"/>
<line x1="1170.00" y1="1606.40" x2="1176.00" y2="1606.40" stroke="#008080" stroke-width="1.40"/>
<line x1="1170.00" y1="1602.76" x2="1176.00" y2="1602.76" stroke="#008080" stroke-width="1.40"/>
<line x1="1170.00" y1="1599.68" x2="1176.00" y2="1599.68" stroke="#008080" stroke-width="1.40"/>
<line x1="1170.00" y1="1597.01" x2="1176.00" y2="1597.01" stroke="#008080" stroke-width="1.40"/>
<line x1="1170.00" y1="1594.66" x2="1176.00" y2="1594.66" stroke="#008080" stroke-width="1.40"/>
<line x1="1170.00" y1="1592.55" x2="1182.50" y2="1592.55" stroke="#008080" stroke-width="2.10"/>
<text transform="translate(1192.15 1601.35) scale(1.0000 1)" font-size="28.80" fill="#008080" stroke="#008080" stroke-width="0.30"><tspan>1</tspan></text>
<line x1="1170.00" y1="1578.70" x2="1176.00" y2="1578.70" stroke="#008080" stroke-width="1.40"/>
<line x1="1170.00" y1="1570.59" x2="1176.00" y2="1570.59" stroke="#008080" stroke-width="1.40"/>
<line x1="1170.00" y1="1564.85" x2="1176.00" y2="1564.85" stroke="#008080" stroke-width="1.40"/>
<line x1="1170.00" y1="1560.39" x2="1176.00" y2="1560.39" stroke="#008080" stroke-width="1.40"/>
<line x1="1170.00" y1="1556.74" x2="1176.00" y2="1556.74" stroke="#008080" stroke-width="1.40"/>
<line x1="1170.00" y1="1553.66" x2="1176.00" y2="1553.66" stroke="#008080" stroke-width="1.40"/>
<line x1="1170.00" y1="1550.99" x2="1176.00" y2="1550.99" stroke="#008080" stroke-width="1.40"/>
<line x1="1170.00" y1="1548.64" x2="1176.00" y2="1548.64" stroke="#008080" stroke-width="1.40"/>
<line x1="1170.00" y1="1546.53" x2="1182.50" y2="1546.53" stroke="#008080" stroke-width="2.10"/>
<text transform="translate(1192.15 1555.33) scale(1.0000 1)" font-size="28.80" fill="#008080" stroke="#008080" stroke-width="0.30"><tspan>10</tspan></text>
<line x1="1170.00" y1="1532.68" x2="1176.00" y2="1532.68" stroke="#008080" stroke-width="1.40"/>
<line x1="1170.00" y1="1524.58" x2="1176.00" y2="1524.58" stroke="#008080" stroke-width="1.40"/>
<line x1="1170.00" y1="1518.83" x2="1176.00" y2="1518.83" stroke="#008080" stroke-width="1.40"/>
<line x1="1170.00" y1="1514.37" x2="1176.00" y2="1514.37" stroke="#008080" stroke-width="1.40"/>
<line x1="1170.00" y1="1510.73" x2="1176.00" y2="1510.73" stroke="#008080" stroke-width="1.40"/>
<line x1="1170.00" y1="1507.64" x2="1176.00" y2="1507.64" stroke="#008080" stroke-width="1.40"/>
<line x1="1170.00" y1="1504.98" x2="1176.00" y2="1504.98" stroke="#008080" stroke-width="1.40"/>
<line x1="1170.00" y1="1502.62" x2="1176.00" y2="1502.62" stroke="#008080" stroke-width="1.40"/>
<line x1="1170.00" y1="1500.52" x2="1182.50" y2="1500.52" stroke="#008080" stroke-width="2.10"/>
<text transform="translate(1192.15 1509.32) scale(1.0000 1)" font-size="28.80" fill="#008080" stroke="#008080" stroke-width="0.30"><tspan>100</tspan></text>
<line x1="1170.00" y1="1486.66" x2="1176.00" y2="1486.66" stroke="#008080" stroke-width="1.40"/>
<line x1="1170.00" y1="1478.56" x2="1176.00" y2="1478.56" stroke="#008080" stroke-width="1.40"/>
<line x1="1170.00" y1="1472.81" x2="1176.00" y2="1472.81" stroke="#008080" stroke-width="1.40"/>
<line x1="1170.00" y1="1468.35" x2="1176.00" y2="1468.35" stroke="#008080" stroke-width="1.40"/>
<line x1="1170.00" y1="1464.71" x2="1176.00" y2="1464.71" stroke="#008080" stroke-width="1.40"/>
<line x1="1170.00" y1="1461.63" x2="1176.00" y2="1461.63" stroke="#008080" stroke-width="1.40"/>
<line x1="1170.00" y1="1458.96" x2="1176.00" y2="1458.96" stroke="#008080" stroke-width="1.40"/>
<line x1="1170.00" y1="1456.61" x2="1176.00" y2="1456.61" stroke="#008080" stroke-width="1.40"/>
<line x1="1170.00" y1="1454.50" x2="1182.50" y2="1454.50" stroke="#008080" stroke-width="2.10"/>
<text transform="translate(1192.15 1463.30) scale(1.0000 1)" font-size="28.80" fill="#008080" stroke="#008080" stroke-width="0.30"><tspan>1000</tspan></text>
<line x1="212.55" y1="2006.70" x2="942.75" y2="2006.70" stroke="#000000" stroke-width="2.10"/>
<line x1="213.60" y1="2006.70" x2="213.60" y2="2019.30" stroke="#000000" stroke-width="2.10"/>
<text transform="translate(206.05 2050.80) scale(1.0600 1)" font-size="28.50" fill="#000000" stroke="#000000" stroke-width="0.30"><tspan>0</tspan></text>
<line x1="271.88" y1="2006.70" x2="271.88" y2="2013.00" stroke="#000000" stroke-width="2.10"/>
<line x1="330.17" y1="2006.70" x2="330.17" y2="2019.30" stroke="#000000" stroke-width="2.10"/>
<text transform="translate(307.43 2050.80) scale(1.0600 1)" font-size="28.50" fill="#000000" stroke="#000000" stroke-width="0.30"><tspan>200</tspan></text>
<line x1="388.45" y1="2006.70" x2="388.45" y2="2013.00" stroke="#000000" stroke-width="2.10"/>
<line x1="446.73" y1="2006.70" x2="446.73" y2="2019.30" stroke="#000000" stroke-width="2.10"/>
<text transform="translate(424.38 2050.80) scale(1.0600 1)" font-size="28.50" fill="#000000" stroke="#000000" stroke-width="0.30"><tspan>400</tspan></text>
<line x1="505.02" y1="2006.70" x2="505.02" y2="2013.00" stroke="#000000" stroke-width="2.10"/>
<line x1="563.30" y1="2006.70" x2="563.30" y2="2019.30" stroke="#000000" stroke-width="2.10"/>
<text transform="translate(540.64 2050.80) scale(1.0600 1)" font-size="28.50" fill="#000000" stroke="#000000" stroke-width="0.30"><tspan>600</tspan></text>
<line x1="621.58" y1="2006.70" x2="621.58" y2="2013.00" stroke="#000000" stroke-width="2.10"/>
<line x1="679.87" y1="2006.70" x2="679.87" y2="2019.30" stroke="#000000" stroke-width="2.10"/>
<text transform="translate(657.21 2050.80) scale(1.0600 1)" font-size="28.50" fill="#000000" stroke="#000000" stroke-width="0.30"><tspan>800</tspan></text>
<line x1="738.15" y1="2006.70" x2="738.15" y2="2013.00" stroke="#000000" stroke-width="2.10"/>
<line x1="796.43" y1="2006.70" x2="796.43" y2="2019.30" stroke="#000000" stroke-width="2.10"/>
<text transform="translate(765.54 2050.80) scale(1.0600 1)" font-size="28.50" fill="#000000" stroke="#000000" stroke-width="0.30"><tspan>1000</tspan></text>
<line x1="854.72" y1="2006.70" x2="854.72" y2="2013.00" stroke="#000000" stroke-width="2.10"/>
<line x1="913.00" y1="2006.70" x2="913.00" y2="2019.30" stroke="#000000" stroke-width="2.10"/>
<text transform="translate(882.11 2050.80) scale(1.0600 1)" font-size="28.50" fill="#000000" stroke="#000000" stroke-width="0.30"><tspan>1200</tspan></text>
<text transform="translate(30.00 1891.06) scale(1.0800 1) rotate(-90)" font-size="35.33" fill="#ee3434"><tspan>Normal&#160;stress&#160;</tspan><tspan font-style="italic">σ</tspan><tspan>&#160;(MPa)</tspan></text>
<text transform="translate(151.00 1875.31) scale(1.0800 1) rotate(-90)" font-size="35.51" fill="#4d4d4d"><tspan>Shear&#160;stress&#160;</tspan><tspan font-style="italic">τ</tspan><tspan>&#160;(MPa)</tspan></text>
<text transform="translate(1042.70 1864.85) scale(1.0800 1) rotate(-90)" font-size="35.05" fill="#0062dd"><tspan>Friction&#160;coefficient</tspan></text>
<text transform="translate(1145.90 1909.97) scale(1.0800 1) rotate(-90)" font-size="34.96" fill="#26a35d"><tspan>Shear&#160;displacement&#160;(mm)</tspan></text>
<text transform="translate(1293.00 1874.27) scale(1.0800 1) rotate(-90)" font-size="35.00" fill="#008080"><tspan>Slip&#160;velocity&#160;(mm/s)</tspan></text>
<text transform="translate(515.86 2113.50) scale(1.0165 1)" font-size="36.50" fill="#555555"><tspan>Time&#160;(s)</tspan></text>
<text transform="translate(218.70 1444.60) scale(1.1003 1)" font-size="21.00" fill="#000000" stroke="#000000" stroke-width="0.50"><tspan>Stage&#160;I</tspan></text>
<text transform="translate(310.02 1442.70) scale(1.0855 1)" font-size="21.00" fill="#000000" stroke="#000000" stroke-width="0.50"><tspan>Stage&#160;II</tspan></text>
<text transform="translate(641.32 1446.10) scale(1.0808 1)" font-size="21.00" fill="#000000" stroke="#000000" stroke-width="0.40"><tspan>Stage&#160;III</tspan></text>
<line x1="286.10" y1="1455.30" x2="286.10" y2="2006.70" stroke="#ff00ff" stroke-width="2.20" stroke-dasharray="12.00 11.49" stroke-dashoffset="0.00"/>
<line x1="409.80" y1="1455.30" x2="409.80" y2="2006.70" stroke="#ff00ff" stroke-width="2.20" stroke-dasharray="12.00 11.49" stroke-dashoffset="0.00"/>
<polyline points="213.6,2006.7 214.1,2005.9 214.7,2004.8 215.5,2003.6 216.5,2002.3 217.7,2001.0 219.2,1999.6 220.7,1998.2 222.3,1996.9 223.9,1995.7 225.4,1994.6 227.1,1993.6 228.8,1992.6 230.5,1991.7 232.3,1990.8 234.2,1989.9 236.2,1989.1 238.4,1988.3 240.8,1987.5 243.4,1986.8 246.0,1986.0 248.7,1985.2 251.6,1984.5 254.6,1983.8 257.7,1983.0 261.0,1982.2 264.5,1981.4 268.1,1980.6 271.6,1979.8 275.1,1978.9 278.5,1978.0 281.9,1977.2 285.6,1976.5 289.5,1975.9 293.6,1975.5 297.8,1975.0 301.9,1974.6 306.0,1974.1 310.1,1973.6 314.2,1973.2 318.3,1972.7 322.3,1972.2 326.2,1971.8 330.2,1971.3 334.6,1970.8 339.4,1970.2 344.5,1969.5 349.7,1968.8 354.8,1968.1 359.9,1967.3 365.1,1966.5 370.2,1965.8 375.0,1965.4 379.5,1965.3 383.8,1965.5 388.0,1965.7 392.3,1966.0 396.6,1966.1 400.8,1966.3 405.1,1966.4 409.6,1966.5 414.4,1966.5 419.5,1966.5 424.7,1966.4 429.8,1966.3 434.8,1966.3 439.9,1966.3 444.9,1966.2 450.0,1966.2 455.1,1966.2 460.3,1966.2 465.5,1966.2 470.6,1966.2 475.8,1966.2 480.9,1966.2 486.1,1966.2 491.2,1966.2 496.4,1966.3 501.6,1966.3 506.7,1966.3 511.9,1966.3 517.0,1966.3 522.2,1966.3 527.3,1966.3 532.5,1966.3 537.7,1966.3 542.8,1966.3 548.0,1966.3 553.1,1966.3 558.3,1966.3 563.4,1966.3 568.6,1966.3 573.8,1966.4 578.9,1966.4 584.1,1966.4 589.2,1966.4 594.4,1966.4 599.5,1966.4 604.7,1966.4 609.8,1966.4 615.0,1966.4 620.2,1966.4 625.3,1966.4 630.5,1966.4 635.6,1966.4 640.8,1966.4 645.9,1966.4 651.1,1966.4 656.2,1966.4 661.4,1966.5 666.6,1966.5 671.7,1966.5 676.9,1966.5 682.0,1966.5 687.2,1966.5 692.3,1966.5 697.5,1966.5 702.7,1966.5 707.8,1966.5 713.0,1966.5 718.1,1966.5 723.3,1966.5 728.4,1966.5 733.6,1966.5 738.8,1966.5 743.9,1966.6 749.1,1966.6 754.2,1966.6 759.4,1966.6 764.6,1966.6 769.8,1966.6 774.9,1966.6 780.0,1966.6 784.9,1966.6 789.7,1966.5 794.4,1966.5 799.2,1966.5 804.0,1966.5 808.8,1966.4 813.6,1966.4 818.4,1966.4 823.2,1966.3 828.0,1966.3 832.8,1966.3 837.6,1966.2 842.4,1966.2 847.2,1966.2 852.0,1966.1 856.8,1966.1 861.8,1966.1 867.0,1966.1 871.9,1966.1 876.0,1966.0 879.1,1965.9 881.5,1965.9 883.6,1965.6 885.8,1964.8 888.3,1963.4 890.9,1961.6 893.4,1959.5 895.7,1957.4 897.9,1955.4 900.1,1953.4 902.0,1951.2 903.7,1948.8 905.0,1946.0 906.1,1943.0 907.1,1939.8 908.0,1936.5 909.0,1933.0 910.0,1929.2 910.9,1925.4 911.7,1921.7 912.5,1917.8 913.2,1913.7 913.8,1910.0 914.2,1907.5" fill="none" stroke="#26a35d" stroke-width="2.10" stroke-linejoin="round" stroke-linecap="round"/>
<polyline points="285.6,1945.8 303.8,1928.5 323.1,1911.2 344.2,1894.8 359.6,1887.1 373.1,1884.8 408.7,1893.3 585.0,1888.2 759.6,1888.2 914.8,1883.4" fill="none" stroke="#0062dd" stroke-width="2.10" stroke-linejoin="round" stroke-linecap="round"/>
<polyline points="410.6,1734.6 411.2,1734.2 412.3,1758.5 414.2,1761.5 415.0,1740.4 415.8,1774.2 418.5,1744.6 421.2,1756.9 422.5,1738.5 423.8,1775.0 425.2,1768.5 427.7,1774.2 428.1,1755.4 430.4,1753.1 431.8,1740.4 432.3,1770.0 435.4,1753.8 436.5,1770.0 440.0,1793.5 441.9,1736.5 443.5,1806.2 444.2,1758.5 445.0,1783.1 448.1,1727.3 451.2,1761.5 452.3,1775.4 453.5,1795.4 454.6,1745.4 456.9,1780.4 459.8,1748.8 461.2,1755.4 463.8,1755.8 465.0,1764.2 466.5,1753.1 468.8,1755.4 471.9,1846.2 475.8,1734.6 480.0,1766.9 481.9,1729.2 485.0,1783.5 485.8,1759.2 489.6,1746.9 492.3,1782.3 496.2,1747.3 496.9,1768.1 498.8,1743.8 499.6,1756.9 502.7,1738.1 505.0,1763.1 507.7,1769.2 510.0,1737.7 512.3,1763.1 514.0,1751.5 514.6,1806.2 516.9,1763.5 517.7,1772.3 522.3,1782.3 522.9,1800.4 524.0,1758.1 525.0,1786.2 528.6,1734.2 531.5,1756.9 532.9,1736.9 536.9,1796.2 537.7,1773.1 538.5,1780.8 544.6,1748.1 548.1,1782.7 555.4,1749.6 556.9,1755.0 560.0,1756.2 560.8,1792.3 563.7,1736.5 565.4,1774.2 566.3,1763.5 568.1,1773.8 569.6,1763.1 571.9,1782.3 572.3,1795.4 579.2,1742.3 583.1,1868.8 586.9,1751.5 590.4,1775.4 592.7,1800.0 593.8,1748.5 595.4,1778.5 596.5,1746.2 598.8,1783.1 600.0,1750.8 602.7,1766.2 603.6,1738.8 604.6,1786.2 607.7,1741.5 613.1,1805.8 614.6,1735.8 615.8,1795.8 619.8,1737.3 621.2,1773.5 624.2,1752.3 625.4,1776.2 628.2,1749.6 628.8,1813.1 631.9,1747.3 634.2,1787.7 636.9,1772.3 638.5,1797.3 639.6,1751.9 641.9,1773.5 645.4,1743.8 646.2,1766.9 649.0,1738.8 649.8,1761.5 651.5,1757.3 654.6,1816.2 658.1,1738.8 662.7,1797.3 663.6,1774.6 665.4,1785.4 668.5,1776.2 668.8,1738.5 671.9,1750.8 674.2,1773.8 675.2,1737.7 676.5,1749.2 679.6,1741.5 682.7,1731.5 684.6,1750.8 688.1,1833.1 690.8,1744.6 692.7,1764.2 694.6,1749.6 697.7,1755.0 699.2,1746.9 700.0,1764.2 703.1,1744.6 704.2,1750.8 707.3,1770.8 708.5,1745.4 710.2,1741.5 710.8,1777.7 713.8,1752.3 715.4,1764.2 719.1,1738.5 723.8,1773.8 725.4,1743.5 727.7,1787.7 729.4,1733.1 730.6,1801.2 731.9,1793.8 735.4,1783.8 736.5,1728.5 738.1,1771.5 740.0,1735.4 741.9,1789.6 743.1,1779.2 746.2,1777.7 746.9,1765.4 747.5,1862.3 750.0,1741.9 751.5,1763.8 752.3,1753.1 755.0,1779.6 756.2,1741.2 760.8,1778.5 761.5,1761.5 765.0,1745.0 765.8,1772.3 768.1,1764.6 770.6,1821.9 771.5,1770.0 774.5,1751.5 775.5,1785.4 777.3,1765.4 779.6,1776.5 780.8,1736.9 782.3,1745.4 786.2,1750.0 786.5,1734.2 789.4,1821.0 790.0,1750.4 790.8,1771.9 793.8,1736.5 796.2,1769.6 797.2,1747.7 797.7,1812.7 800.8,1739.6 803.8,1764.2 805.6,1873.4 807.3,1756.9 809.0,1738.8 812.7,1751.9 814.2,1747.3 815.8,1788.1 816.9,1744.6 820.0,1747.3 821.8,1817.3 823.8,1784.2 825.4,1782.3 828.5,1732.7 829.6,1750.0 832.7,1750.0 835.9,1808.1 837.3,1744.2 840.4,1763.5 842.8,1744.2 843.8,1811.2 846.2,1757.7 846.8,1816.5 848.1,1791.9 849.6,1756.5 850.4,1797.7 853.1,1731.9 854.2,1791.9 857.3,1742.7 858.1,1766.5 861.2,1767.3 861.8,1805.4 865.4,1741.5 871.2,1799.6 872.7,1764.2 873.5,1774.2 874.9,1716.0 877.1,1725.2 878.3,1711.1 880.2,1714.8 881.7,1706.8 883.5,1710.2 885.1,1698.2 887.5,1689.5 888.8,1679.1 890.6,1674.8 892.5,1667.7 895.2,1679.1 898.3,1660.9 901.7,1671.1 903.5,1656.9 906.0,1643.4 908.2,1650.2 909.7,1643.4 911.5,1644.0 914.3,1628.5" fill="none" stroke="#008080" stroke-width="1.60" stroke-linejoin="round" stroke-linecap="round"/>
<polyline points="213.6,2006.7 254.8,1790.0 283.7,1622.1 286.5,1619.2 302.0,1600.0 311.5,1587.3 342.3,1541.2 351.9,1529.6 365.4,1518.1 374.0,1515.8 409.6,1533.8 585.2,1553.6 759.4,1553.5 914.6,1570.8" fill="none" stroke="#ee3434" stroke-width="2.10" stroke-linejoin="round" stroke-linecap="round"/>
<polyline points="213.6,2006.7 284.6,1841.0 287.5,1832.3 300.0,1790.0 301.9,1780.8 323.1,1709.6 344.2,1638.5 350.0,1621.2 359.6,1600.8 366.3,1587.3 374.0,1582.5 409.6,1625.0 914.6,1625.0" fill="none" stroke="#484848" stroke-width="2.10" stroke-linejoin="round" stroke-linecap="round"/>
<text transform="translate(579.86 2193.70) scale(1.0000 1)" font-size="38.00" fill="#000"><tspan font-style="italic">σ</tspan></text>
<text transform="translate(597.76 2196.40) scale(1.0000 1)" font-size="26.00" fill="#000"><tspan>ct</tspan></text>
<rect x="622.50" y="2177.90" width="20.30" height="1.80" fill="#000"/>
<rect x="622.50" y="2185.40" width="20.30" height="1.80" fill="#000"/>
<text transform="translate(651.67 2193.70) scale(0.9653 1)" font-size="38.00" fill="#000"><tspan>40&#160;MPa</tspan></text>
</g>
</svg></body></html>
